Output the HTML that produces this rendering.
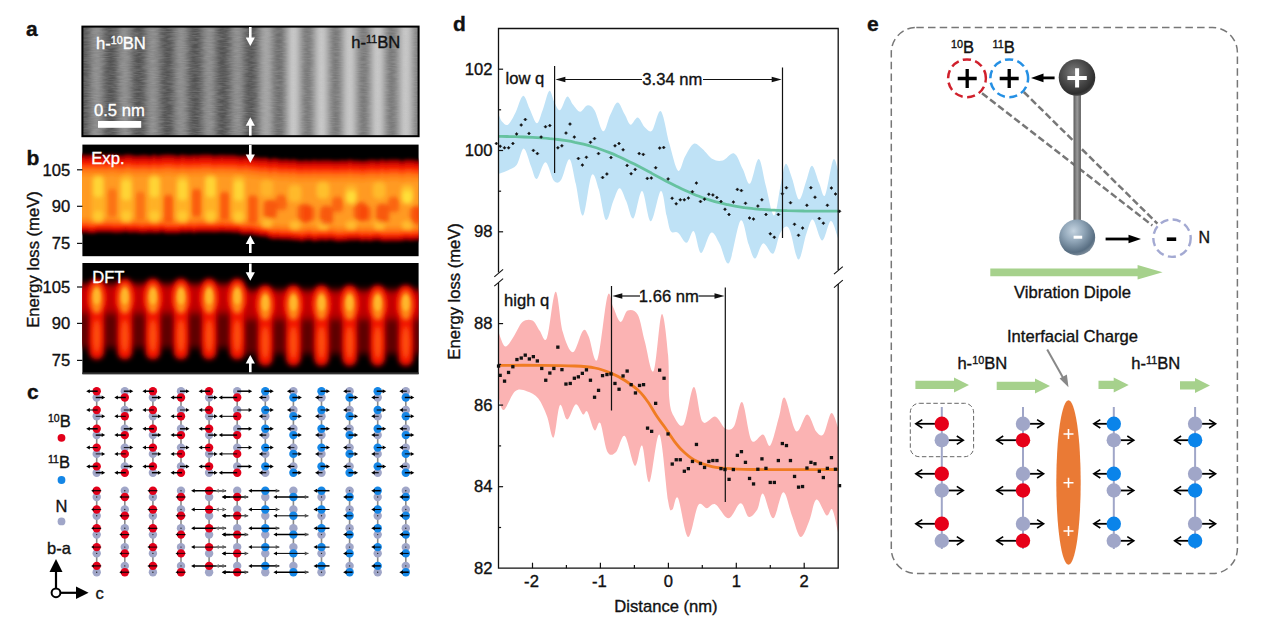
<!DOCTYPE html><html><head><meta charset="utf-8"><style>html,body{margin:0;padding:0;background:#fff}svg{display:block}text{font-family:"Liberation Sans",sans-serif;fill:#111;stroke:#111;stroke-width:0.35px}</style></head><body>
<svg width="1264" height="624" viewBox="0 0 1264 624">
<rect width="1264" height="624" fill="#fff"/>
<defs>
<linearGradient id="stripeL" x1="82.65" x2="110.75" y1="0" y2="0" gradientUnits="userSpaceOnUse" spreadMethod="repeat">
<stop offset="0.0000" stop-color="#525252"/><stop offset="0.0833" stop-color="#565656"/><stop offset="0.1667" stop-color="#606060"/><stop offset="0.2500" stop-color="#6f6f6f"/><stop offset="0.3333" stop-color="#7e7e7e"/><stop offset="0.4167" stop-color="#888888"/><stop offset="0.5000" stop-color="#8c8c8c"/><stop offset="0.5833" stop-color="#888888"/><stop offset="0.6667" stop-color="#7e7e7e"/><stop offset="0.7500" stop-color="#6f6f6f"/><stop offset="0.8333" stop-color="#606060"/><stop offset="0.9167" stop-color="#565656"/><stop offset="1.0000" stop-color="#525252"/></linearGradient>
<linearGradient id="stripeR" x1="82.65" x2="110.75" y1="0" y2="0" gradientUnits="userSpaceOnUse" spreadMethod="repeat">
<stop offset="0.0000" stop-color="#787878"/><stop offset="0.0833" stop-color="#7d7d7d"/><stop offset="0.1667" stop-color="#8c8c8c"/><stop offset="0.2500" stop-color="#a0a0a0"/><stop offset="0.3333" stop-color="#b4b4b4"/><stop offset="0.4167" stop-color="#c3c3c3"/><stop offset="0.5000" stop-color="#c8c8c8"/><stop offset="0.5833" stop-color="#c3c3c3"/><stop offset="0.6667" stop-color="#b4b4b4"/><stop offset="0.7500" stop-color="#a0a0a0"/><stop offset="0.8333" stop-color="#8c8c8c"/><stop offset="0.9167" stop-color="#7d7d7d"/><stop offset="1.0000" stop-color="#787878"/></linearGradient>
<linearGradient id="fadeLR" x1="248" x2="292" y1="0" y2="0" gradientUnits="userSpaceOnUse">
<stop offset="0" stop-color="#fff" stop-opacity="0"/><stop offset="1" stop-color="#fff" stop-opacity="1"/></linearGradient>
<mask id="mR"><rect x="82" y="26" width="337" height="111" fill="url(#fadeLR)"/></mask>
<filter id="noise" x="0" y="0" width="100%" height="100%"><feTurbulence type="fractalNoise" baseFrequency="0.12 0.8" numOctaves="2" seed="3"/><feColorMatrix type="matrix" values="0 0 0 0 0.5  0 0 0 0 0.5  0 0 0 0 0.5  0.9 0 0 0 -0.28"/></filter>
<linearGradient id="expL" x1="0" x2="0" y1="145" y2="256" gradientUnits="userSpaceOnUse">
<stop offset="0" stop-color="#000"/><stop offset="0.07" stop-color="#120000"/><stop offset="0.13" stop-color="#7a0000"/><stop offset="0.19" stop-color="#e01000"/><stop offset="0.26" stop-color="#ff4a08"/><stop offset="0.33" stop-color="#ff8a14"/><stop offset="0.42" stop-color="#ffa820"/><stop offset="0.52" stop-color="#ff8416"/><stop offset="0.60" stop-color="#ff8a18"/><stop offset="0.68" stop-color="#ff9a1c"/><stop offset="0.74" stop-color="#ff5a0c"/><stop offset="0.79" stop-color="#e81400"/><stop offset="0.84" stop-color="#6a0000"/><stop offset="0.89" stop-color="#0a0000"/><stop offset="1" stop-color="#000"/></linearGradient>
<linearGradient id="expR" x1="0" x2="0" y1="150" y2="261" gradientUnits="userSpaceOnUse">
<stop offset="0" stop-color="#000"/><stop offset="0.07" stop-color="#120000"/><stop offset="0.13" stop-color="#7a0000"/><stop offset="0.19" stop-color="#e01000"/><stop offset="0.26" stop-color="#ff4a08"/><stop offset="0.33" stop-color="#ff8a14"/><stop offset="0.42" stop-color="#ffa820"/><stop offset="0.52" stop-color="#ff6a10"/><stop offset="0.60" stop-color="#ff5a0c"/><stop offset="0.68" stop-color="#ff9018"/><stop offset="0.74" stop-color="#ff5a0c"/><stop offset="0.79" stop-color="#e81400"/><stop offset="0.84" stop-color="#6a0000"/><stop offset="0.89" stop-color="#0a0000"/><stop offset="1" stop-color="#000"/></linearGradient>
<filter id="b1" x="-20%" y="-20%" width="140%" height="140%"><feGaussianBlur stdDeviation="1.6"/></filter>
<filter id="b15" x="-20%" y="-20%" width="140%" height="140%"><feGaussianBlur stdDeviation="2.1"/></filter>
<filter id="b2" x="-30%" y="-30%" width="160%" height="160%"><feGaussianBlur stdDeviation="2.6"/></filter>
<filter id="b3" x="-30%" y="-30%" width="160%" height="160%"><feGaussianBlur stdDeviation="3.6"/></filter>
<filter id="b5" x="-30%" y="-30%" width="160%" height="160%"><feGaussianBlur stdDeviation="5"/></filter>
<clipPath id="cExp"><rect x="82" y="144.6" width="336.6" height="111.6"/></clipPath>
<clipPath id="cDft"><rect x="82" y="263" width="336.6" height="111"/></clipPath>
<clipPath id="cA"><rect x="82.4" y="26.4" width="336.2" height="110"/></clipPath>
<radialGradient id="sphD" cx="0.42" cy="0.36" r="0.68"><stop offset="0" stop-color="#7c7c7c"/><stop offset="0.5" stop-color="#4c4c4c"/><stop offset="0.85" stop-color="#2e2e2e"/><stop offset="1" stop-color="#505050"/></radialGradient>
<radialGradient id="sphN" cx="0.40" cy="0.32" r="0.7"><stop offset="0" stop-color="#c4d3e0"/><stop offset="0.4" stop-color="#93a8ba"/><stop offset="0.85" stop-color="#586e82"/><stop offset="1" stop-color="#7d8d9b"/></radialGradient>
<linearGradient id="rod" x1="0" x2="1" y1="0" y2="0"><stop offset="0" stop-color="#5a5a5a"/><stop offset="0.5" stop-color="#9a9a9a"/><stop offset="1" stop-color="#5a5a5a"/></linearGradient>
</defs>
<g clip-path="url(#cA)">
<rect x="82" y="26" width="337" height="111" fill="url(#stripeL)"/>
<rect x="82" y="26" width="337" height="111" fill="url(#stripeR)" mask="url(#mR)"/>
<rect x="82" y="26" width="337" height="111" filter="url(#noise)" opacity="0.55"/>
</g>
<rect x="82.4" y="26.6" width="336.2" height="109.6" fill="none" stroke="#000" stroke-width="2"/>
<path d="M250.3,27.0 L250.3,40.0" stroke="#fff" stroke-width="2.6" fill="none"/>
<path d="M250.3,46.0 L245.7,37.5 L254.9,37.5 Z" fill="#fff"/>
<path d="M250.3,135.5 L250.3,123.2" stroke="#fff" stroke-width="2.6" fill="none"/>
<path d="M250.3,117.2 L245.7,125.7 L254.9,125.7 Z" fill="#fff"/>
<text x="96" y="48.6" font-size="16.6" style="fill:#fff;stroke:#fff">h-<tspan font-size="10.8" dy="-5">10</tspan><tspan dy="5">BN</tspan></text>
<text x="351.3" y="48" font-size="16.6" style="fill:#111">h-<tspan font-size="10.8" dy="-5">11</tspan><tspan dy="5">BN</tspan></text>
<text x="94" y="115.5" font-size="16.6" style="fill:#fff;stroke:#fff">0.5 nm</text>
<rect x="98" y="121" width="43.2" height="6.8" fill="#fff"/>
<rect x="82.4" y="144.6" width="336.2" height="111.6" fill="#000"/>
<g clip-path="url(#cExp)">
<g filter="url(#b1)">
<path d="M70.0,153.8 L74.0,153.5 L78.0,154.2 L82.0,153.4 L86.0,154.1 L90.0,153.8 L94.0,153.4 L98.0,154.0 L102.0,153.4 L106.0,153.9 L110.0,153.4 L114.0,153.4 L118.0,153.9 L122.0,154.5 L126.0,153.5 L130.0,153.6 L134.0,154.2 L138.0,154.6 L142.0,154.1 L146.0,153.9 L150.0,154.7 L154.0,153.4 L158.0,154.5 L162.0,153.7 L166.0,153.5 L170.0,153.5 L174.0,153.7 L178.0,154.4 L182.0,153.6 L186.0,154.1 L190.0,154.2 L194.0,153.8 L198.0,154.1 L202.0,153.4 L206.0,153.4 L210.0,153.6 L214.0,154.3 L218.0,153.9 L222.0,153.7 L226.0,154.1 L230.0,154.0 L234.0,153.9 L238.0,154.8 L242.0,154.9 L246.0,154.6 L250.0,155.4 L254.0,155.7 L258.0,156.6 L262.0,156.8 L266.0,156.6 L270.0,157.9 L274.0,157.1 L278.0,157.8 L282.0,158.6 L286.0,158.1 L290.0,158.7 L294.0,158.3 L298.0,159.2 L302.0,159.4 L306.0,159.1 L310.0,159.5 L314.0,158.7 L318.0,159.3 L322.0,159.1 L326.0,159.1 L330.0,158.9 L334.0,159.5 L338.0,159.6 L342.0,159.0 L346.0,159.2 L350.0,158.4 L354.0,159.3 L358.0,159.2 L362.0,159.7 L366.0,159.5 L370.0,158.7 L374.0,158.8 L378.0,159.2 L382.0,158.3 L386.0,158.9 L390.0,158.5 L394.0,158.5 L398.0,158.4 L402.0,159.4 L406.0,158.5 L410.0,158.6 L414.0,158.8 L418.0,159.5 L422.0,158.4 L426.0,158.9 L430.0,159.1 L434.0,159.5 L434.0,242.3 L430.0,241.7 L426.0,241.7 L422.0,241.3 L418.0,241.3 L414.0,241.8 L410.0,242.0 L406.0,241.6 L402.0,242.3 L398.0,242.4 L394.0,242.4 L390.0,242.5 L386.0,242.7 L382.0,242.4 L378.0,241.6 L374.0,241.8 L370.0,242.4 L366.0,242.0 L362.0,242.4 L358.0,241.5 L354.0,241.8 L350.0,241.7 L346.0,242.3 L342.0,242.5 L338.0,242.7 L334.0,242.0 L330.0,241.3 L326.0,242.1 L322.0,241.5 L318.0,242.0 L314.0,242.6 L310.0,241.3 L306.0,241.5 L302.0,242.5 L298.0,241.7 L294.0,241.6 L290.0,241.1 L286.0,240.7 L282.0,240.8 L278.0,240.3 L274.0,240.5 L270.0,239.7 L266.0,238.0 L262.0,237.7 L258.0,237.1 L254.0,236.3 L250.0,235.6 L246.0,235.7 L242.0,235.6 L238.0,234.0 L234.0,234.1 L230.0,233.5 L226.0,233.5 L222.0,233.3 L218.0,233.4 L214.0,233.8 L210.0,233.5 L206.0,233.6 L202.0,233.4 L198.0,233.4 L194.0,234.2 L190.0,233.4 L186.0,233.9 L182.0,233.8 L178.0,234.4 L174.0,234.5 L170.0,234.4 L166.0,234.6 L162.0,233.4 L158.0,234.2 L154.0,234.2 L150.0,234.0 L146.0,234.3 L142.0,234.6 L138.0,234.1 L134.0,233.8 L130.0,233.9 L126.0,233.3 L122.0,233.7 L118.0,234.1 L114.0,234.0 L110.0,233.6 L106.0,233.6 L102.0,233.5 L98.0,233.5 L94.0,234.6 L90.0,234.5 L86.0,233.8 L82.0,233.9 L78.0,233.7 L74.0,234.5 L70.0,234.4 Z" fill="#4a0000" opacity="1"/>
<path d="M70.0,156.3 L74.0,156.0 L78.0,156.7 L82.0,155.9 L86.0,156.6 L90.0,156.3 L94.0,155.9 L98.0,156.5 L102.0,155.9 L106.0,156.4 L110.0,155.9 L114.0,155.9 L118.0,156.4 L122.0,157.0 L126.0,156.0 L130.0,156.1 L134.0,156.7 L138.0,157.1 L142.0,156.6 L146.0,156.4 L150.0,157.2 L154.0,155.9 L158.0,157.0 L162.0,156.2 L166.0,156.0 L170.0,156.0 L174.0,156.2 L178.0,156.9 L182.0,156.1 L186.0,156.6 L190.0,156.7 L194.0,156.3 L198.0,156.6 L202.0,155.9 L206.0,155.9 L210.0,156.1 L214.0,156.8 L218.0,156.4 L222.0,156.2 L226.0,156.6 L230.0,156.5 L234.0,156.4 L238.0,157.3 L242.0,157.4 L246.0,157.1 L250.0,157.9 L254.0,158.2 L258.0,159.1 L262.0,159.3 L266.0,159.1 L270.0,160.4 L274.0,159.6 L278.0,160.3 L282.0,161.1 L286.0,160.6 L290.0,161.2 L294.0,160.8 L298.0,161.7 L302.0,161.9 L306.0,161.6 L310.0,162.0 L314.0,161.2 L318.0,161.8 L322.0,161.6 L326.0,161.6 L330.0,161.4 L334.0,162.0 L338.0,162.1 L342.0,161.5 L346.0,161.7 L350.0,160.9 L354.0,161.8 L358.0,161.7 L362.0,162.2 L366.0,162.0 L370.0,161.2 L374.0,161.3 L378.0,161.7 L382.0,160.8 L386.0,161.4 L390.0,161.0 L394.0,161.0 L398.0,160.9 L402.0,161.9 L406.0,161.0 L410.0,161.1 L414.0,161.3 L418.0,162.0 L422.0,160.9 L426.0,161.4 L430.0,161.6 L434.0,162.0 L434.0,239.8 L430.0,239.2 L426.0,239.2 L422.0,238.8 L418.0,238.8 L414.0,239.3 L410.0,239.5 L406.0,239.1 L402.0,239.8 L398.0,239.9 L394.0,239.9 L390.0,240.0 L386.0,240.2 L382.0,239.9 L378.0,239.1 L374.0,239.3 L370.0,239.9 L366.0,239.5 L362.0,239.9 L358.0,239.0 L354.0,239.3 L350.0,239.2 L346.0,239.8 L342.0,240.0 L338.0,240.2 L334.0,239.5 L330.0,238.8 L326.0,239.6 L322.0,239.0 L318.0,239.5 L314.0,240.1 L310.0,238.8 L306.0,239.0 L302.0,240.0 L298.0,239.2 L294.0,239.1 L290.0,238.6 L286.0,238.2 L282.0,238.3 L278.0,237.8 L274.0,238.0 L270.0,237.2 L266.0,235.5 L262.0,235.2 L258.0,234.6 L254.0,233.8 L250.0,233.1 L246.0,233.2 L242.0,233.1 L238.0,231.5 L234.0,231.6 L230.0,231.0 L226.0,231.0 L222.0,230.8 L218.0,230.9 L214.0,231.3 L210.0,231.0 L206.0,231.1 L202.0,230.9 L198.0,230.9 L194.0,231.7 L190.0,230.9 L186.0,231.4 L182.0,231.3 L178.0,231.9 L174.0,232.0 L170.0,231.9 L166.0,232.1 L162.0,230.9 L158.0,231.7 L154.0,231.7 L150.0,231.5 L146.0,231.8 L142.0,232.1 L138.0,231.6 L134.0,231.3 L130.0,231.4 L126.0,230.8 L122.0,231.2 L118.0,231.6 L114.0,231.5 L110.0,231.1 L106.0,231.1 L102.0,231.0 L98.0,231.0 L94.0,232.1 L90.0,232.0 L86.0,231.3 L82.0,231.4 L78.0,231.2 L74.0,232.0 L70.0,231.9 Z" fill="#b80400" opacity="1"/>
<path d="M70.0,159.8 L74.0,159.5 L78.0,160.2 L82.0,159.4 L86.0,160.1 L90.0,159.8 L94.0,159.4 L98.0,160.0 L102.0,159.4 L106.0,159.9 L110.0,159.4 L114.0,159.4 L118.0,159.9 L122.0,160.5 L126.0,159.5 L130.0,159.6 L134.0,160.2 L138.0,160.6 L142.0,160.1 L146.0,159.9 L150.0,160.7 L154.0,159.4 L158.0,160.5 L162.0,159.7 L166.0,159.5 L170.0,159.5 L174.0,159.7 L178.0,160.4 L182.0,159.6 L186.0,160.1 L190.0,160.2 L194.0,159.8 L198.0,160.1 L202.0,159.4 L206.0,159.4 L210.0,159.6 L214.0,160.3 L218.0,159.9 L222.0,159.7 L226.0,160.1 L230.0,160.0 L234.0,159.9 L238.0,160.8 L242.0,160.9 L246.0,160.6 L250.0,161.4 L254.0,161.7 L258.0,162.6 L262.0,162.8 L266.0,162.6 L270.0,163.9 L274.0,163.1 L278.0,163.8 L282.0,164.6 L286.0,164.1 L290.0,164.7 L294.0,164.3 L298.0,165.2 L302.0,165.4 L306.0,165.1 L310.0,165.5 L314.0,164.7 L318.0,165.3 L322.0,165.1 L326.0,165.1 L330.0,164.9 L334.0,165.5 L338.0,165.6 L342.0,165.0 L346.0,165.2 L350.0,164.4 L354.0,165.3 L358.0,165.2 L362.0,165.7 L366.0,165.5 L370.0,164.7 L374.0,164.8 L378.0,165.2 L382.0,164.3 L386.0,164.9 L390.0,164.5 L394.0,164.5 L398.0,164.4 L402.0,165.4 L406.0,164.5 L410.0,164.6 L414.0,164.8 L418.0,165.5 L422.0,164.4 L426.0,164.9 L430.0,165.1 L434.0,165.5 L434.0,237.3 L430.0,236.7 L426.0,236.7 L422.0,236.3 L418.0,236.3 L414.0,236.8 L410.0,237.0 L406.0,236.6 L402.0,237.3 L398.0,237.4 L394.0,237.4 L390.0,237.5 L386.0,237.7 L382.0,237.4 L378.0,236.6 L374.0,236.8 L370.0,237.4 L366.0,237.0 L362.0,237.4 L358.0,236.5 L354.0,236.8 L350.0,236.7 L346.0,237.3 L342.0,237.5 L338.0,237.7 L334.0,237.0 L330.0,236.3 L326.0,237.1 L322.0,236.5 L318.0,237.0 L314.0,237.6 L310.0,236.3 L306.0,236.5 L302.0,237.5 L298.0,236.7 L294.0,236.6 L290.0,236.1 L286.0,235.7 L282.0,235.8 L278.0,235.3 L274.0,235.5 L270.0,234.7 L266.0,233.0 L262.0,232.7 L258.0,232.1 L254.0,231.3 L250.0,230.6 L246.0,230.7 L242.0,230.6 L238.0,229.0 L234.0,229.1 L230.0,228.5 L226.0,228.5 L222.0,228.3 L218.0,228.4 L214.0,228.8 L210.0,228.5 L206.0,228.6 L202.0,228.4 L198.0,228.4 L194.0,229.2 L190.0,228.4 L186.0,228.9 L182.0,228.8 L178.0,229.4 L174.0,229.5 L170.0,229.4 L166.0,229.6 L162.0,228.4 L158.0,229.2 L154.0,229.2 L150.0,229.0 L146.0,229.3 L142.0,229.6 L138.0,229.1 L134.0,228.8 L130.0,228.9 L126.0,228.3 L122.0,228.7 L118.0,229.1 L114.0,229.0 L110.0,228.6 L106.0,228.6 L102.0,228.5 L98.0,228.5 L94.0,229.6 L90.0,229.5 L86.0,228.8 L82.0,228.9 L78.0,228.7 L74.0,229.5 L70.0,229.4 Z" fill="#f01800" opacity="1"/>
<path d="M70.0,164.3 L74.0,164.0 L78.0,164.7 L82.0,163.9 L86.0,164.6 L90.0,164.3 L94.0,163.9 L98.0,164.5 L102.0,163.9 L106.0,164.4 L110.0,163.9 L114.0,163.9 L118.0,164.4 L122.0,165.0 L126.0,164.0 L130.0,164.1 L134.0,164.7 L138.0,165.1 L142.0,164.6 L146.0,164.4 L150.0,165.2 L154.0,163.9 L158.0,165.0 L162.0,164.2 L166.0,164.0 L170.0,164.0 L174.0,164.2 L178.0,164.9 L182.0,164.1 L186.0,164.6 L190.0,164.7 L194.0,164.3 L198.0,164.6 L202.0,163.9 L206.0,163.9 L210.0,164.1 L214.0,164.8 L218.0,164.4 L222.0,164.2 L226.0,164.6 L230.0,164.5 L234.0,164.4 L238.0,165.3 L242.0,165.4 L246.0,165.1 L250.0,165.9 L254.0,166.2 L258.0,167.1 L262.0,167.3 L266.0,167.1 L270.0,168.4 L274.0,167.6 L278.0,168.3 L282.0,169.1 L286.0,168.6 L290.0,169.2 L294.0,168.8 L298.0,169.7 L302.0,169.9 L306.0,169.6 L310.0,170.0 L314.0,169.2 L318.0,169.8 L322.0,169.6 L326.0,169.6 L330.0,169.4 L334.0,170.0 L338.0,170.1 L342.0,169.5 L346.0,169.7 L350.0,168.9 L354.0,169.8 L358.0,169.7 L362.0,170.2 L366.0,170.0 L370.0,169.2 L374.0,169.3 L378.0,169.7 L382.0,168.8 L386.0,169.4 L390.0,169.0 L394.0,169.0 L398.0,168.9 L402.0,169.9 L406.0,169.0 L410.0,169.1 L414.0,169.3 L418.0,170.0 L422.0,168.9 L426.0,169.4 L430.0,169.6 L434.0,170.0 L434.0,234.8 L430.0,234.2 L426.0,234.2 L422.0,233.8 L418.0,233.8 L414.0,234.3 L410.0,234.5 L406.0,234.1 L402.0,234.8 L398.0,234.9 L394.0,234.9 L390.0,235.0 L386.0,235.2 L382.0,234.9 L378.0,234.1 L374.0,234.3 L370.0,234.9 L366.0,234.5 L362.0,234.9 L358.0,234.0 L354.0,234.3 L350.0,234.2 L346.0,234.8 L342.0,235.0 L338.0,235.2 L334.0,234.5 L330.0,233.8 L326.0,234.6 L322.0,234.0 L318.0,234.5 L314.0,235.1 L310.0,233.8 L306.0,234.0 L302.0,235.0 L298.0,234.2 L294.0,234.1 L290.0,233.6 L286.0,233.2 L282.0,233.3 L278.0,232.8 L274.0,233.0 L270.0,232.2 L266.0,230.5 L262.0,230.2 L258.0,229.6 L254.0,228.8 L250.0,228.1 L246.0,228.2 L242.0,228.1 L238.0,226.5 L234.0,226.6 L230.0,226.0 L226.0,226.0 L222.0,225.8 L218.0,225.9 L214.0,226.3 L210.0,226.0 L206.0,226.1 L202.0,225.9 L198.0,225.9 L194.0,226.7 L190.0,225.9 L186.0,226.4 L182.0,226.3 L178.0,226.9 L174.0,227.0 L170.0,226.9 L166.0,227.1 L162.0,225.9 L158.0,226.7 L154.0,226.7 L150.0,226.5 L146.0,226.8 L142.0,227.1 L138.0,226.6 L134.0,226.3 L130.0,226.4 L126.0,225.8 L122.0,226.2 L118.0,226.6 L114.0,226.5 L110.0,226.1 L106.0,226.1 L102.0,226.0 L98.0,226.0 L94.0,227.1 L90.0,227.0 L86.0,226.3 L82.0,226.4 L78.0,226.2 L74.0,227.0 L70.0,226.9 Z" fill="#ff4608" opacity="1"/>
<path d="M70.0,168.3 L74.0,168.0 L78.0,168.7 L82.0,167.9 L86.0,168.6 L90.0,168.3 L94.0,167.9 L98.0,168.5 L102.0,167.9 L106.0,168.4 L110.0,167.9 L114.0,167.9 L118.0,168.4 L122.0,169.0 L126.0,168.0 L130.0,168.1 L134.0,168.7 L138.0,169.1 L142.0,168.6 L146.0,168.4 L150.0,169.2 L154.0,167.9 L158.0,169.0 L162.0,168.2 L166.0,168.0 L170.0,168.0 L174.0,168.2 L178.0,168.9 L182.0,168.1 L186.0,168.6 L190.0,168.7 L194.0,168.3 L198.0,168.6 L202.0,167.9 L206.0,167.9 L210.0,168.1 L214.0,168.8 L218.0,168.4 L222.0,168.2 L226.0,168.6 L230.0,168.5 L234.0,168.4 L238.0,169.3 L242.0,169.4 L246.0,169.1 L250.0,169.9 L254.0,170.2 L258.0,171.1 L262.0,171.3 L266.0,171.1 L270.0,172.4 L274.0,171.6 L278.0,172.3 L282.0,173.1 L286.0,172.6 L290.0,173.2 L294.0,172.8 L298.0,173.7 L302.0,173.9 L306.0,173.6 L310.0,174.0 L314.0,173.2 L318.0,173.8 L322.0,173.6 L326.0,173.6 L330.0,173.4 L334.0,174.0 L338.0,174.1 L342.0,173.5 L346.0,173.7 L350.0,172.9 L354.0,173.8 L358.0,173.7 L362.0,174.2 L366.0,174.0 L370.0,173.2 L374.0,173.3 L378.0,173.7 L382.0,172.8 L386.0,173.4 L390.0,173.0 L394.0,173.0 L398.0,172.9 L402.0,173.9 L406.0,173.0 L410.0,173.1 L414.0,173.3 L418.0,174.0 L422.0,172.9 L426.0,173.4 L430.0,173.6 L434.0,174.0 L434.0,231.8 L430.0,231.2 L426.0,231.2 L422.0,230.8 L418.0,230.8 L414.0,231.3 L410.0,231.5 L406.0,231.1 L402.0,231.8 L398.0,231.9 L394.0,231.9 L390.0,232.0 L386.0,232.2 L382.0,231.9 L378.0,231.1 L374.0,231.3 L370.0,231.9 L366.0,231.5 L362.0,231.9 L358.0,231.0 L354.0,231.3 L350.0,231.2 L346.0,231.8 L342.0,232.0 L338.0,232.2 L334.0,231.5 L330.0,230.8 L326.0,231.6 L322.0,231.0 L318.0,231.5 L314.0,232.1 L310.0,230.8 L306.0,231.0 L302.0,232.0 L298.0,231.2 L294.0,231.1 L290.0,230.6 L286.0,230.2 L282.0,230.3 L278.0,229.8 L274.0,230.0 L270.0,229.2 L266.0,227.5 L262.0,227.2 L258.0,226.6 L254.0,225.8 L250.0,225.1 L246.0,225.2 L242.0,225.1 L238.0,223.5 L234.0,223.6 L230.0,223.0 L226.0,223.0 L222.0,222.8 L218.0,222.9 L214.0,223.3 L210.0,223.0 L206.0,223.1 L202.0,222.9 L198.0,222.9 L194.0,223.7 L190.0,222.9 L186.0,223.4 L182.0,223.3 L178.0,223.9 L174.0,224.0 L170.0,223.9 L166.0,224.1 L162.0,222.9 L158.0,223.7 L154.0,223.7 L150.0,223.5 L146.0,223.8 L142.0,224.1 L138.0,223.6 L134.0,223.3 L130.0,223.4 L126.0,222.8 L122.0,223.2 L118.0,223.6 L114.0,223.5 L110.0,223.1 L106.0,223.1 L102.0,223.0 L98.0,223.0 L94.0,224.1 L90.0,224.0 L86.0,223.3 L82.0,223.4 L78.0,223.2 L74.0,224.0 L70.0,223.9 Z" fill="#ff7412" opacity="1"/>
<path d="M70.0,172.3 L74.0,172.0 L78.0,172.7 L82.0,171.9 L86.0,172.6 L90.0,172.3 L94.0,171.9 L98.0,172.5 L102.0,171.9 L106.0,172.4 L110.0,171.9 L114.0,171.9 L118.0,172.4 L122.0,173.0 L126.0,172.0 L130.0,172.1 L134.0,172.7 L138.0,173.1 L142.0,172.6 L146.0,172.4 L150.0,173.2 L154.0,171.9 L158.0,173.0 L162.0,172.2 L166.0,172.0 L170.0,172.0 L174.0,172.2 L178.0,172.9 L182.0,172.1 L186.0,172.6 L190.0,172.7 L194.0,172.3 L198.0,172.6 L202.0,171.9 L206.0,171.9 L210.0,172.1 L214.0,172.8 L218.0,172.4 L222.0,172.2 L226.0,172.6 L230.0,172.5 L234.0,172.4 L238.0,173.3 L242.0,173.4 L246.0,173.1 L250.0,173.9 L254.0,174.2 L258.0,175.1 L262.0,175.3 L266.0,175.1 L270.0,176.4 L274.0,175.6 L278.0,176.3 L282.0,177.1 L286.0,176.6 L290.0,177.2 L294.0,176.8 L298.0,177.7 L302.0,177.9 L306.0,177.6 L310.0,178.0 L314.0,177.2 L318.0,177.8 L322.0,177.6 L326.0,177.6 L330.0,177.4 L334.0,178.0 L338.0,178.1 L342.0,177.5 L346.0,177.7 L350.0,176.9 L354.0,177.8 L358.0,177.7 L362.0,178.2 L366.0,178.0 L370.0,177.2 L374.0,177.3 L378.0,177.7 L382.0,176.8 L386.0,177.4 L390.0,177.0 L394.0,177.0 L398.0,176.9 L402.0,177.9 L406.0,177.0 L410.0,177.1 L414.0,177.3 L418.0,178.0 L422.0,176.9 L426.0,177.4 L430.0,177.6 L434.0,178.0 L434.0,228.8 L430.0,228.2 L426.0,228.2 L422.0,227.8 L418.0,227.8 L414.0,228.3 L410.0,228.5 L406.0,228.1 L402.0,228.8 L398.0,228.9 L394.0,228.9 L390.0,229.0 L386.0,229.2 L382.0,228.9 L378.0,228.1 L374.0,228.3 L370.0,228.9 L366.0,228.5 L362.0,228.9 L358.0,228.0 L354.0,228.3 L350.0,228.2 L346.0,228.8 L342.0,229.0 L338.0,229.2 L334.0,228.5 L330.0,227.8 L326.0,228.6 L322.0,228.0 L318.0,228.5 L314.0,229.1 L310.0,227.8 L306.0,228.0 L302.0,229.0 L298.0,228.2 L294.0,228.1 L290.0,227.6 L286.0,227.2 L282.0,227.3 L278.0,226.8 L274.0,227.0 L270.0,226.2 L266.0,224.5 L262.0,224.2 L258.0,223.6 L254.0,222.8 L250.0,222.1 L246.0,222.2 L242.0,222.1 L238.0,220.5 L234.0,220.6 L230.0,220.0 L226.0,220.0 L222.0,219.8 L218.0,219.9 L214.0,220.3 L210.0,220.0 L206.0,220.1 L202.0,219.9 L198.0,219.9 L194.0,220.7 L190.0,219.9 L186.0,220.4 L182.0,220.3 L178.0,220.9 L174.0,221.0 L170.0,220.9 L166.0,221.1 L162.0,219.9 L158.0,220.7 L154.0,220.7 L150.0,220.5 L146.0,220.8 L142.0,221.1 L138.0,220.6 L134.0,220.3 L130.0,220.4 L126.0,219.8 L122.0,220.2 L118.0,220.6 L114.0,220.5 L110.0,220.1 L106.0,220.1 L102.0,220.0 L98.0,220.0 L94.0,221.1 L90.0,221.0 L86.0,220.3 L82.0,220.4 L78.0,220.2 L74.0,221.0 L70.0,220.9 Z" fill="#ff8c1a" opacity="1"/>
<path d="M70.0,176.3 L74.0,176.0 L78.0,176.7 L82.0,175.9 L86.0,176.6 L90.0,176.3 L94.0,175.9 L98.0,176.5 L102.0,175.9 L106.0,176.4 L110.0,175.9 L114.0,175.9 L118.0,176.4 L122.0,177.0 L126.0,176.0 L130.0,176.1 L134.0,176.7 L138.0,177.1 L142.0,176.6 L146.0,176.4 L150.0,177.2 L154.0,175.9 L158.0,177.0 L162.0,176.2 L166.0,176.0 L170.0,176.0 L174.0,176.2 L178.0,176.9 L182.0,176.1 L186.0,176.6 L190.0,176.7 L194.0,176.3 L198.0,176.6 L202.0,175.9 L206.0,175.9 L210.0,176.1 L214.0,176.8 L218.0,176.4 L222.0,176.2 L226.0,176.6 L230.0,176.5 L234.0,176.4 L238.0,177.3 L242.0,177.4 L246.0,177.1 L250.0,177.9 L254.0,178.2 L258.0,179.1 L262.0,179.3 L266.0,179.1 L270.0,180.4 L274.0,179.6 L278.0,180.3 L282.0,181.1 L286.0,180.6 L290.0,181.2 L294.0,180.8 L298.0,181.7 L302.0,181.9 L306.0,181.6 L310.0,182.0 L314.0,181.2 L318.0,181.8 L322.0,181.6 L326.0,181.6 L330.0,181.4 L334.0,182.0 L338.0,182.1 L342.0,181.5 L346.0,181.7 L350.0,180.9 L354.0,181.8 L358.0,181.7 L362.0,182.2 L366.0,182.0 L370.0,181.2 L374.0,181.3 L378.0,181.7 L382.0,180.8 L386.0,181.4 L390.0,181.0 L394.0,181.0 L398.0,180.9 L402.0,181.9 L406.0,181.0 L410.0,181.1 L414.0,181.3 L418.0,182.0 L422.0,180.9 L426.0,181.4 L430.0,181.6 L434.0,182.0 L434.0,225.8 L430.0,225.2 L426.0,225.2 L422.0,224.8 L418.0,224.8 L414.0,225.3 L410.0,225.5 L406.0,225.1 L402.0,225.8 L398.0,225.9 L394.0,225.9 L390.0,226.0 L386.0,226.2 L382.0,225.9 L378.0,225.1 L374.0,225.3 L370.0,225.9 L366.0,225.5 L362.0,225.9 L358.0,225.0 L354.0,225.3 L350.0,225.2 L346.0,225.8 L342.0,226.0 L338.0,226.2 L334.0,225.5 L330.0,224.8 L326.0,225.6 L322.0,225.0 L318.0,225.5 L314.0,226.1 L310.0,224.8 L306.0,225.0 L302.0,226.0 L298.0,225.2 L294.0,225.1 L290.0,224.6 L286.0,224.2 L282.0,224.3 L278.0,223.8 L274.0,224.0 L270.0,223.2 L266.0,221.5 L262.0,221.2 L258.0,220.6 L254.0,219.8 L250.0,219.1 L246.0,219.2 L242.0,219.1 L238.0,217.5 L234.0,217.6 L230.0,217.0 L226.0,217.0 L222.0,216.8 L218.0,216.9 L214.0,217.3 L210.0,217.0 L206.0,217.1 L202.0,216.9 L198.0,216.9 L194.0,217.7 L190.0,216.9 L186.0,217.4 L182.0,217.3 L178.0,217.9 L174.0,218.0 L170.0,217.9 L166.0,218.1 L162.0,216.9 L158.0,217.7 L154.0,217.7 L150.0,217.5 L146.0,217.8 L142.0,218.1 L138.0,217.6 L134.0,217.3 L130.0,217.4 L126.0,216.8 L122.0,217.2 L118.0,217.6 L114.0,217.5 L110.0,217.1 L106.0,217.1 L102.0,217.0 L98.0,217.0 L94.0,218.1 L90.0,218.0 L86.0,217.3 L82.0,217.4 L78.0,217.2 L74.0,218.0 L70.0,217.9 Z" fill="#ff9a20" opacity="1"/>
</g>
<g filter="url(#b15)">
<rect x="91.7" y="175.0" width="13" height="48" rx="5" fill="#ffb828" opacity="0.8"/>
<rect x="93.2" y="177.0" width="10" height="20" rx="4" fill="#ffe03a" opacity="0.75"/>
<rect x="93.2" y="211.0" width="10" height="10" rx="4" fill="#ffd834" opacity="0.6"/>
<rect x="107.2" y="189.0" width="10" height="28" rx="4" fill="#f83408" opacity="0.40"/>
<rect x="119.8" y="175.0" width="13" height="48" rx="5" fill="#ffb828" opacity="0.8"/>
<rect x="121.3" y="180.0" width="10" height="20" rx="4" fill="#ffe03a" opacity="0.75"/>
<rect x="121.3" y="211.0" width="10" height="10" rx="4" fill="#ffd834" opacity="0.6"/>
<rect x="135.3" y="192.0" width="10" height="28" rx="4" fill="#f83408" opacity="0.40"/>
<rect x="147.9" y="175.0" width="13" height="48" rx="5" fill="#ffb828" opacity="0.8"/>
<rect x="149.4" y="177.0" width="10" height="20" rx="4" fill="#ffe03a" opacity="0.75"/>
<rect x="149.4" y="211.0" width="10" height="10" rx="4" fill="#ffd834" opacity="0.6"/>
<rect x="163.4" y="195.0" width="10" height="28" rx="4" fill="#f83408" opacity="0.60"/>
<rect x="176.0" y="175.0" width="13" height="48" rx="5" fill="#ffb828" opacity="0.8"/>
<rect x="177.5" y="180.0" width="10" height="20" rx="4" fill="#ffe03a" opacity="0.75"/>
<rect x="177.5" y="211.0" width="10" height="10" rx="4" fill="#ffd834" opacity="0.6"/>
<rect x="191.5" y="189.0" width="10" height="28" rx="4" fill="#f83408" opacity="0.60"/>
<rect x="204.1" y="175.0" width="13" height="48" rx="5" fill="#ffb828" opacity="0.8"/>
<rect x="205.6" y="177.0" width="10" height="20" rx="4" fill="#ffe03a" opacity="0.75"/>
<rect x="205.6" y="211.0" width="10" height="10" rx="4" fill="#ffd834" opacity="0.6"/>
<rect x="219.6" y="192.0" width="10" height="28" rx="4" fill="#f83408" opacity="0.60"/>
<rect x="232.2" y="175.4" width="13" height="48" rx="5" fill="#ffb828" opacity="0.8"/>
<rect x="233.7" y="180.4" width="10" height="20" rx="4" fill="#ffe03a" opacity="0.75"/>
<rect x="233.7" y="211.4" width="10" height="10" rx="4" fill="#ffd834" opacity="0.6"/>
<rect x="247.7" y="195.4" width="10" height="28" rx="4" fill="#f83408" opacity="0.60"/>
<rect x="260.3" y="179.9" width="13" height="17" rx="5" fill="#ffc42c" opacity="0.60"/>
<rect x="261.3" y="218.9" width="11" height="9" rx="4" fill="#ffc830" opacity="0.75"/>
<rect x="263.8" y="199.9" width="13" height="19" rx="5" fill="#f42c06" opacity="0.6"/>
<rect x="275.8" y="194.9" width="11" height="15" rx="4" fill="#f83408" opacity="0.5"/>
<rect x="288.4" y="184.9" width="13" height="17" rx="5" fill="#ffc42c" opacity="0.75"/>
<rect x="289.4" y="220.9" width="11" height="9" rx="4" fill="#ffc830" opacity="0.75"/>
<rect x="297.9" y="203.9" width="13" height="19" rx="5" fill="#f42c06" opacity="0.6"/>
<rect x="303.9" y="205.9" width="11" height="15" rx="4" fill="#f83408" opacity="0.5"/>
<rect x="316.5" y="182.0" width="13" height="17" rx="5" fill="#ffc42c" opacity="0.90"/>
<rect x="317.5" y="221.0" width="11" height="9" rx="4" fill="#ffc830" opacity="0.75"/>
<rect x="320.0" y="206.0" width="13" height="19" rx="5" fill="#f42c06" opacity="0.6"/>
<rect x="332.0" y="197.0" width="11" height="15" rx="4" fill="#f83408" opacity="0.5"/>
<rect x="344.6" y="185.0" width="13" height="17" rx="5" fill="#ffc42c" opacity="0.60"/>
<rect x="345.6" y="221.0" width="11" height="9" rx="4" fill="#ffc830" opacity="0.75"/>
<rect x="354.1" y="202.0" width="13" height="19" rx="5" fill="#f42c06" opacity="0.6"/>
<rect x="360.1" y="206.0" width="11" height="15" rx="4" fill="#f83408" opacity="0.5"/>
<rect x="346.1" y="191.0" width="10" height="13" rx="4" fill="#ffe83c" opacity="0.8"/>
<rect x="372.7" y="182.0" width="13" height="17" rx="5" fill="#ffc42c" opacity="0.75"/>
<rect x="373.7" y="221.0" width="11" height="9" rx="4" fill="#ffc830" opacity="0.75"/>
<rect x="376.2" y="204.0" width="13" height="19" rx="5" fill="#f42c06" opacity="0.6"/>
<rect x="388.2" y="197.0" width="11" height="15" rx="4" fill="#f83408" opacity="0.5"/>
<rect x="400.8" y="185.0" width="13" height="17" rx="5" fill="#ffc42c" opacity="0.90"/>
<rect x="401.8" y="221.0" width="11" height="9" rx="4" fill="#ffc830" opacity="0.75"/>
<rect x="410.3" y="206.0" width="13" height="19" rx="5" fill="#f42c06" opacity="0.6"/>
<rect x="416.3" y="206.0" width="11" height="15" rx="4" fill="#f83408" opacity="0.5"/>
<rect x="402.3" y="191.0" width="10" height="13" rx="4" fill="#ffe83c" opacity="0.8"/>
</g>
</g>
<path d="M250.3,145.0 L250.3,157.1" stroke="#fff" stroke-width="2.6" fill="none"/>
<path d="M250.3,163.0 L245.7,154.5 L254.9,154.5 Z" fill="#fff"/>
<path d="M250.3,253.0 L250.3,241.4" stroke="#fff" stroke-width="2.6" fill="none"/>
<path d="M250.3,235.5 L245.7,244.0 L254.9,244.0 Z" fill="#fff"/>
<text x="91.3" y="163.7" font-size="16.6" style="fill:#fff;stroke:#fff">Exp.</text>
<rect x="82.4" y="263" width="336.2" height="111" fill="#000"/>
<g clip-path="url(#cDft)">
<g filter="url(#b3)">
<rect x="70" y="284" width="172" height="30" fill="#d00000" opacity="0.9"/>
<rect x="242" y="290" width="190" height="30" fill="#d00000" opacity="0.9"/>
<rect x="70" y="312" width="172" height="36" fill="#6a0000" opacity="0.9"/>
<rect x="242" y="318" width="190" height="36" fill="#6a0000" opacity="0.9"/>
</g>
<g filter="url(#b2)">
<rect x="61.1" y="278.5" width="15" height="81" rx="7.5" fill="#f00800"/>
<ellipse cx="68.6" cy="297.0" rx="10.5" ry="17" fill="#f00800"/>
<rect x="89.2" y="278.5" width="15" height="81" rx="7.5" fill="#f00800"/>
<ellipse cx="96.7" cy="297.0" rx="10.5" ry="17" fill="#f00800"/>
<rect x="117.3" y="278.5" width="15" height="81" rx="7.5" fill="#f00800"/>
<ellipse cx="124.8" cy="297.0" rx="10.5" ry="17" fill="#f00800"/>
<rect x="145.4" y="278.5" width="15" height="81" rx="7.5" fill="#f00800"/>
<ellipse cx="152.9" cy="297.0" rx="10.5" ry="17" fill="#f00800"/>
<rect x="173.5" y="278.5" width="15" height="81" rx="7.5" fill="#f00800"/>
<ellipse cx="181.0" cy="297.0" rx="10.5" ry="17" fill="#f00800"/>
<rect x="201.6" y="278.5" width="15" height="81" rx="7.5" fill="#f00800"/>
<ellipse cx="209.1" cy="297.0" rx="10.5" ry="17" fill="#f00800"/>
<rect x="229.7" y="278.5" width="15" height="81" rx="7.5" fill="#f00800"/>
<ellipse cx="237.2" cy="297.0" rx="10.5" ry="17" fill="#f00800"/>
<rect x="257.8" y="285.0" width="15" height="81" rx="7.5" fill="#f00800"/>
<ellipse cx="265.3" cy="303.5" rx="10.5" ry="17" fill="#f00800"/>
<rect x="285.9" y="285.0" width="15" height="81" rx="7.5" fill="#f00800"/>
<ellipse cx="293.4" cy="303.5" rx="10.5" ry="17" fill="#f00800"/>
<rect x="314.0" y="285.0" width="15" height="81" rx="7.5" fill="#f00800"/>
<ellipse cx="321.5" cy="303.5" rx="10.5" ry="17" fill="#f00800"/>
<rect x="342.1" y="285.0" width="15" height="81" rx="7.5" fill="#f00800"/>
<ellipse cx="349.6" cy="303.5" rx="10.5" ry="17" fill="#f00800"/>
<rect x="370.2" y="285.0" width="15" height="81" rx="7.5" fill="#f00800"/>
<ellipse cx="377.7" cy="303.5" rx="10.5" ry="17" fill="#f00800"/>
<rect x="398.3" y="285.0" width="15" height="81" rx="7.5" fill="#f00800"/>
<ellipse cx="405.8" cy="303.5" rx="10.5" ry="17" fill="#f00800"/>
<rect x="426.4" y="285.0" width="15" height="81" rx="7.5" fill="#f00800"/>
<ellipse cx="433.9" cy="303.5" rx="10.5" ry="17" fill="#f00800"/>
</g>
<g filter="url(#b2)">
<ellipse cx="68.6" cy="299.0" rx="6.5" ry="15" fill="#ff8c18"/>
<ellipse cx="68.6" cy="336.0" rx="4" ry="17" fill="#ff5a0c" opacity="0.9"/>
<ellipse cx="96.7" cy="299.0" rx="6.5" ry="15" fill="#ff8c18"/>
<ellipse cx="96.7" cy="336.0" rx="4" ry="17" fill="#ff5a0c" opacity="0.9"/>
<ellipse cx="124.8" cy="299.0" rx="6.5" ry="15" fill="#ff8c18"/>
<ellipse cx="124.8" cy="336.0" rx="4" ry="17" fill="#ff5a0c" opacity="0.9"/>
<ellipse cx="152.9" cy="299.0" rx="6.5" ry="15" fill="#ff8c18"/>
<ellipse cx="152.9" cy="336.0" rx="4" ry="17" fill="#ff5a0c" opacity="0.9"/>
<ellipse cx="181.0" cy="299.0" rx="6.5" ry="15" fill="#ff8c18"/>
<ellipse cx="181.0" cy="336.0" rx="4" ry="17" fill="#ff5a0c" opacity="0.9"/>
<ellipse cx="209.1" cy="299.0" rx="6.5" ry="15" fill="#ff8c18"/>
<ellipse cx="209.1" cy="336.0" rx="4" ry="17" fill="#ff5a0c" opacity="0.9"/>
<ellipse cx="237.2" cy="299.0" rx="6.5" ry="15" fill="#ff8c18"/>
<ellipse cx="237.2" cy="336.0" rx="4" ry="17" fill="#ff5a0c" opacity="0.9"/>
<ellipse cx="265.3" cy="305.5" rx="6.5" ry="15" fill="#ff8c18"/>
<ellipse cx="265.3" cy="342.5" rx="4" ry="17" fill="#ff5a0c" opacity="0.9"/>
<ellipse cx="293.4" cy="305.5" rx="6.5" ry="15" fill="#ff8c18"/>
<ellipse cx="293.4" cy="342.5" rx="4" ry="17" fill="#ff5a0c" opacity="0.9"/>
<ellipse cx="321.5" cy="305.5" rx="6.5" ry="15" fill="#ff8c18"/>
<ellipse cx="321.5" cy="342.5" rx="4" ry="17" fill="#ff5a0c" opacity="0.9"/>
<ellipse cx="349.6" cy="305.5" rx="6.5" ry="15" fill="#ff8c18"/>
<ellipse cx="349.6" cy="342.5" rx="4" ry="17" fill="#ff5a0c" opacity="0.9"/>
<ellipse cx="377.7" cy="305.5" rx="6.5" ry="15" fill="#ff8c18"/>
<ellipse cx="377.7" cy="342.5" rx="4" ry="17" fill="#ff5a0c" opacity="0.9"/>
<ellipse cx="405.8" cy="305.5" rx="6.5" ry="15" fill="#ff8c18"/>
<ellipse cx="405.8" cy="342.5" rx="4" ry="17" fill="#ff5a0c" opacity="0.9"/>
<ellipse cx="433.9" cy="305.5" rx="6.5" ry="15" fill="#ff8c18"/>
<ellipse cx="433.9" cy="342.5" rx="4" ry="17" fill="#ff5a0c" opacity="0.9"/>
</g>
<g filter="url(#b1)">
<ellipse cx="68.6" cy="296.5" rx="3.6" ry="8" fill="#ffb82a" opacity="0.95"/>
<ellipse cx="96.7" cy="296.5" rx="3.6" ry="8" fill="#ffb82a" opacity="0.95"/>
<ellipse cx="124.8" cy="296.5" rx="3.6" ry="8" fill="#ffb82a" opacity="0.95"/>
<ellipse cx="152.9" cy="296.5" rx="3.6" ry="8" fill="#ffb82a" opacity="0.95"/>
<ellipse cx="181.0" cy="296.5" rx="3.6" ry="8" fill="#ffb82a" opacity="0.95"/>
<ellipse cx="209.1" cy="296.5" rx="3.6" ry="8" fill="#ffb82a" opacity="0.95"/>
<ellipse cx="237.2" cy="296.5" rx="3.6" ry="8" fill="#ffb82a" opacity="0.95"/>
<ellipse cx="265.3" cy="303.0" rx="3.6" ry="8" fill="#ffb82a" opacity="0.95"/>
<ellipse cx="293.4" cy="303.0" rx="3.6" ry="8" fill="#ffb82a" opacity="0.95"/>
<ellipse cx="321.5" cy="303.0" rx="3.6" ry="8" fill="#ffb82a" opacity="0.95"/>
<ellipse cx="349.6" cy="303.0" rx="3.6" ry="8" fill="#ffb82a" opacity="0.95"/>
<ellipse cx="377.7" cy="303.0" rx="3.6" ry="8" fill="#ffb82a" opacity="0.95"/>
<ellipse cx="405.8" cy="303.0" rx="3.6" ry="8" fill="#ffb82a" opacity="0.95"/>
<ellipse cx="433.9" cy="303.0" rx="3.6" ry="8" fill="#ffb82a" opacity="0.95"/>
</g>
</g>
<path d="M250.3,263.5 L250.3,274.8" stroke="#fff" stroke-width="2.6" fill="none"/>
<path d="M250.3,280.7 L245.7,272.2 L254.9,272.2 Z" fill="#fff"/>
<path d="M250.3,372.5 L250.3,360.9" stroke="#fff" stroke-width="2.6" fill="none"/>
<path d="M250.3,355.0 L245.7,363.5 L254.9,363.5 Z" fill="#fff"/>
<text x="92.2" y="282.5" font-size="16.6" style="fill:#fff;stroke:#fff">DFT</text>
<rect x="82.4" y="372.4" width="336.2" height="2" fill="#333"/>
<path d="M77,169.8 H82.4" stroke="#111" stroke-width="1.2"/>
<text x="70.2" y="175.7" font-size="16.6" text-anchor="end">105</text>
<path d="M77,206.3 H82.4" stroke="#111" stroke-width="1.2"/>
<text x="70.2" y="212.2" font-size="16.6" text-anchor="end">90</text>
<path d="M77,243.4 H82.4" stroke="#111" stroke-width="1.2"/>
<text x="70.2" y="249.3" font-size="16.6" text-anchor="end">75</text>
<path d="M77,287.0 H82.4" stroke="#111" stroke-width="1.2"/>
<text x="70.2" y="292.9" font-size="16.6" text-anchor="end">105</text>
<path d="M77,323.4 H82.4" stroke="#111" stroke-width="1.2"/>
<text x="70.2" y="329.3" font-size="16.6" text-anchor="end">90</text>
<path d="M77,360.4 H82.4" stroke="#111" stroke-width="1.2"/>
<text x="70.2" y="366.3" font-size="16.6" text-anchor="end">75</text>
<text transform="translate(39.2,259.5) rotate(-90)" font-size="16.6" text-anchor="middle">Energy loss (meV)</text>
<text x="26.0" y="36.0" font-size="21" font-weight="bold" style="fill:#111">a</text>
<text x="26.5" y="165.0" font-size="21" font-weight="bold" style="fill:#111">b</text>
<text x="27.0" y="399.0" font-size="21" font-weight="bold" style="fill:#111">c</text>
<text x="453.0" y="31.0" font-size="21" font-weight="bold" style="fill:#111">d</text>
<text x="867.0" y="31.0" font-size="21" font-weight="bold" style="fill:#111">e</text>
<path d="M96.7,391.2 V472.7" stroke="#8a8a8a" stroke-width="1.6"/>
<path d="M124.8,391.2 V472.7" stroke="#8a8a8a" stroke-width="1.6"/>
<path d="M152.9,391.2 V472.7" stroke="#8a8a8a" stroke-width="1.6"/>
<path d="M181.0,391.2 V472.7" stroke="#8a8a8a" stroke-width="1.6"/>
<path d="M209.1,391.2 V472.7" stroke="#8a8a8a" stroke-width="1.6"/>
<path d="M237.2,391.2 V472.7" stroke="#8a8a8a" stroke-width="1.6"/>
<path d="M265.3,391.2 V472.7" stroke="#8a8a8a" stroke-width="1.6"/>
<path d="M293.4,391.2 V472.7" stroke="#8a8a8a" stroke-width="1.6"/>
<path d="M321.5,391.2 V472.7" stroke="#8a8a8a" stroke-width="1.6"/>
<path d="M349.6,391.2 V472.7" stroke="#8a8a8a" stroke-width="1.6"/>
<path d="M377.7,391.2 V472.7" stroke="#8a8a8a" stroke-width="1.6"/>
<path d="M405.8,391.2 V472.7" stroke="#8a8a8a" stroke-width="1.6"/>
<circle cx="96.7" cy="397.5" r="4.2" fill="#a0a6c8"/>
<circle cx="96.7" cy="391.2" r="4.2" fill="#e2001a"/>
<circle cx="96.7" cy="416.3" r="4.2" fill="#a0a6c8"/>
<circle cx="96.7" cy="410.0" r="4.2" fill="#e2001a"/>
<circle cx="96.7" cy="435.1" r="4.2" fill="#a0a6c8"/>
<circle cx="96.7" cy="428.8" r="4.2" fill="#e2001a"/>
<circle cx="96.7" cy="453.9" r="4.2" fill="#a0a6c8"/>
<circle cx="96.7" cy="447.6" r="4.2" fill="#e2001a"/>
<circle cx="96.7" cy="472.7" r="4.2" fill="#a0a6c8"/>
<circle cx="96.7" cy="466.4" r="4.2" fill="#e2001a"/>
<circle cx="124.8" cy="391.2" r="4.2" fill="#a0a6c8"/>
<circle cx="124.8" cy="397.5" r="4.2" fill="#e2001a"/>
<circle cx="124.8" cy="410.0" r="4.2" fill="#a0a6c8"/>
<circle cx="124.8" cy="416.3" r="4.2" fill="#e2001a"/>
<circle cx="124.8" cy="428.8" r="4.2" fill="#a0a6c8"/>
<circle cx="124.8" cy="435.1" r="4.2" fill="#e2001a"/>
<circle cx="124.8" cy="447.6" r="4.2" fill="#a0a6c8"/>
<circle cx="124.8" cy="453.9" r="4.2" fill="#e2001a"/>
<circle cx="124.8" cy="466.4" r="4.2" fill="#a0a6c8"/>
<circle cx="124.8" cy="472.7" r="4.2" fill="#e2001a"/>
<circle cx="152.9" cy="397.5" r="4.2" fill="#a0a6c8"/>
<circle cx="152.9" cy="391.2" r="4.2" fill="#e2001a"/>
<circle cx="152.9" cy="416.3" r="4.2" fill="#a0a6c8"/>
<circle cx="152.9" cy="410.0" r="4.2" fill="#e2001a"/>
<circle cx="152.9" cy="435.1" r="4.2" fill="#a0a6c8"/>
<circle cx="152.9" cy="428.8" r="4.2" fill="#e2001a"/>
<circle cx="152.9" cy="453.9" r="4.2" fill="#a0a6c8"/>
<circle cx="152.9" cy="447.6" r="4.2" fill="#e2001a"/>
<circle cx="152.9" cy="472.7" r="4.2" fill="#a0a6c8"/>
<circle cx="152.9" cy="466.4" r="4.2" fill="#e2001a"/>
<circle cx="181.0" cy="391.2" r="4.2" fill="#a0a6c8"/>
<circle cx="181.0" cy="397.5" r="4.2" fill="#e2001a"/>
<circle cx="181.0" cy="410.0" r="4.2" fill="#a0a6c8"/>
<circle cx="181.0" cy="416.3" r="4.2" fill="#e2001a"/>
<circle cx="181.0" cy="428.8" r="4.2" fill="#a0a6c8"/>
<circle cx="181.0" cy="435.1" r="4.2" fill="#e2001a"/>
<circle cx="181.0" cy="447.6" r="4.2" fill="#a0a6c8"/>
<circle cx="181.0" cy="453.9" r="4.2" fill="#e2001a"/>
<circle cx="181.0" cy="466.4" r="4.2" fill="#a0a6c8"/>
<circle cx="181.0" cy="472.7" r="4.2" fill="#e2001a"/>
<circle cx="209.1" cy="397.5" r="4.2" fill="#a0a6c8"/>
<circle cx="209.1" cy="391.2" r="4.2" fill="#e2001a"/>
<circle cx="209.1" cy="416.3" r="4.2" fill="#a0a6c8"/>
<circle cx="209.1" cy="410.0" r="4.2" fill="#e2001a"/>
<circle cx="209.1" cy="435.1" r="4.2" fill="#a0a6c8"/>
<circle cx="209.1" cy="428.8" r="4.2" fill="#e2001a"/>
<circle cx="209.1" cy="453.9" r="4.2" fill="#a0a6c8"/>
<circle cx="209.1" cy="447.6" r="4.2" fill="#e2001a"/>
<circle cx="209.1" cy="472.7" r="4.2" fill="#a0a6c8"/>
<circle cx="209.1" cy="466.4" r="4.2" fill="#e2001a"/>
<circle cx="237.2" cy="391.2" r="4.2" fill="#a0a6c8"/>
<circle cx="237.2" cy="397.5" r="4.2" fill="#e2001a"/>
<circle cx="237.2" cy="410.0" r="4.2" fill="#a0a6c8"/>
<circle cx="237.2" cy="416.3" r="4.2" fill="#e2001a"/>
<circle cx="237.2" cy="428.8" r="4.2" fill="#a0a6c8"/>
<circle cx="237.2" cy="435.1" r="4.2" fill="#e2001a"/>
<circle cx="237.2" cy="447.6" r="4.2" fill="#a0a6c8"/>
<circle cx="237.2" cy="453.9" r="4.2" fill="#e2001a"/>
<circle cx="237.2" cy="466.4" r="4.2" fill="#a0a6c8"/>
<circle cx="237.2" cy="472.7" r="4.2" fill="#e2001a"/>
<circle cx="265.3" cy="397.5" r="4.2" fill="#a0a6c8"/>
<circle cx="265.3" cy="391.2" r="4.2" fill="#1486e6"/>
<circle cx="265.3" cy="416.3" r="4.2" fill="#a0a6c8"/>
<circle cx="265.3" cy="410.0" r="4.2" fill="#1486e6"/>
<circle cx="265.3" cy="435.1" r="4.2" fill="#a0a6c8"/>
<circle cx="265.3" cy="428.8" r="4.2" fill="#1486e6"/>
<circle cx="265.3" cy="453.9" r="4.2" fill="#a0a6c8"/>
<circle cx="265.3" cy="447.6" r="4.2" fill="#1486e6"/>
<circle cx="265.3" cy="472.7" r="4.2" fill="#a0a6c8"/>
<circle cx="265.3" cy="466.4" r="4.2" fill="#1486e6"/>
<circle cx="293.4" cy="391.2" r="4.2" fill="#a0a6c8"/>
<circle cx="293.4" cy="397.5" r="4.2" fill="#1486e6"/>
<circle cx="293.4" cy="410.0" r="4.2" fill="#a0a6c8"/>
<circle cx="293.4" cy="416.3" r="4.2" fill="#1486e6"/>
<circle cx="293.4" cy="428.8" r="4.2" fill="#a0a6c8"/>
<circle cx="293.4" cy="435.1" r="4.2" fill="#1486e6"/>
<circle cx="293.4" cy="447.6" r="4.2" fill="#a0a6c8"/>
<circle cx="293.4" cy="453.9" r="4.2" fill="#1486e6"/>
<circle cx="293.4" cy="466.4" r="4.2" fill="#a0a6c8"/>
<circle cx="293.4" cy="472.7" r="4.2" fill="#1486e6"/>
<circle cx="321.5" cy="397.5" r="4.2" fill="#a0a6c8"/>
<circle cx="321.5" cy="391.2" r="4.2" fill="#1486e6"/>
<circle cx="321.5" cy="416.3" r="4.2" fill="#a0a6c8"/>
<circle cx="321.5" cy="410.0" r="4.2" fill="#1486e6"/>
<circle cx="321.5" cy="435.1" r="4.2" fill="#a0a6c8"/>
<circle cx="321.5" cy="428.8" r="4.2" fill="#1486e6"/>
<circle cx="321.5" cy="453.9" r="4.2" fill="#a0a6c8"/>
<circle cx="321.5" cy="447.6" r="4.2" fill="#1486e6"/>
<circle cx="321.5" cy="472.7" r="4.2" fill="#a0a6c8"/>
<circle cx="321.5" cy="466.4" r="4.2" fill="#1486e6"/>
<circle cx="349.6" cy="391.2" r="4.2" fill="#a0a6c8"/>
<circle cx="349.6" cy="397.5" r="4.2" fill="#1486e6"/>
<circle cx="349.6" cy="410.0" r="4.2" fill="#a0a6c8"/>
<circle cx="349.6" cy="416.3" r="4.2" fill="#1486e6"/>
<circle cx="349.6" cy="428.8" r="4.2" fill="#a0a6c8"/>
<circle cx="349.6" cy="435.1" r="4.2" fill="#1486e6"/>
<circle cx="349.6" cy="447.6" r="4.2" fill="#a0a6c8"/>
<circle cx="349.6" cy="453.9" r="4.2" fill="#1486e6"/>
<circle cx="349.6" cy="466.4" r="4.2" fill="#a0a6c8"/>
<circle cx="349.6" cy="472.7" r="4.2" fill="#1486e6"/>
<circle cx="377.7" cy="397.5" r="4.2" fill="#a0a6c8"/>
<circle cx="377.7" cy="391.2" r="4.2" fill="#1486e6"/>
<circle cx="377.7" cy="416.3" r="4.2" fill="#a0a6c8"/>
<circle cx="377.7" cy="410.0" r="4.2" fill="#1486e6"/>
<circle cx="377.7" cy="435.1" r="4.2" fill="#a0a6c8"/>
<circle cx="377.7" cy="428.8" r="4.2" fill="#1486e6"/>
<circle cx="377.7" cy="453.9" r="4.2" fill="#a0a6c8"/>
<circle cx="377.7" cy="447.6" r="4.2" fill="#1486e6"/>
<circle cx="377.7" cy="472.7" r="4.2" fill="#a0a6c8"/>
<circle cx="377.7" cy="466.4" r="4.2" fill="#1486e6"/>
<circle cx="405.8" cy="391.2" r="4.2" fill="#a0a6c8"/>
<circle cx="405.8" cy="397.5" r="4.2" fill="#1486e6"/>
<circle cx="405.8" cy="410.0" r="4.2" fill="#a0a6c8"/>
<circle cx="405.8" cy="416.3" r="4.2" fill="#1486e6"/>
<circle cx="405.8" cy="428.8" r="4.2" fill="#a0a6c8"/>
<circle cx="405.8" cy="435.1" r="4.2" fill="#1486e6"/>
<circle cx="405.8" cy="447.6" r="4.2" fill="#a0a6c8"/>
<circle cx="405.8" cy="453.9" r="4.2" fill="#1486e6"/>
<circle cx="405.8" cy="466.4" r="4.2" fill="#a0a6c8"/>
<circle cx="405.8" cy="472.7" r="4.2" fill="#1486e6"/>
<path d="M97.7,391.2 H88.4" stroke="#000" stroke-width="1.5" fill="none"/>
<path d="M86.2,391.2 L89.8,389.2 L89.8,393.2 Z" fill="#000"/>
<path d="M95.7,397.5 H103.0" stroke="#000" stroke-width="1.4" fill="none"/>
<path d="M105.2,397.5 L101.6,395.5 L101.6,399.5 Z" fill="#000"/>
<path d="M97.7,410.0 H88.4" stroke="#000" stroke-width="1.0" fill="none"/>
<path d="M86.2,410.0 L89.8,408.0 L89.8,412.0 Z" fill="#000"/>
<path d="M95.7,416.3 H103.0" stroke="#000" stroke-width="0.9" fill="none"/>
<path d="M105.2,416.3 L101.6,414.3 L101.6,418.3 Z" fill="#000"/>
<path d="M97.7,428.8 H88.4" stroke="#000" stroke-width="1.5" fill="none"/>
<path d="M86.2,428.8 L89.8,426.8 L89.8,430.8 Z" fill="#000"/>
<path d="M95.7,435.1 H103.0" stroke="#000" stroke-width="1.4" fill="none"/>
<path d="M105.2,435.1 L101.6,433.1 L101.6,437.1 Z" fill="#000"/>
<path d="M97.7,447.6 H88.4" stroke="#000" stroke-width="1.0" fill="none"/>
<path d="M86.2,447.6 L89.8,445.6 L89.8,449.6 Z" fill="#000"/>
<path d="M95.7,453.9 H103.0" stroke="#000" stroke-width="0.9" fill="none"/>
<path d="M105.2,453.9 L101.6,451.9 L101.6,455.9 Z" fill="#000"/>
<path d="M97.7,466.4 H88.4" stroke="#000" stroke-width="1.5" fill="none"/>
<path d="M86.2,466.4 L89.8,464.4 L89.8,468.4 Z" fill="#000"/>
<path d="M95.7,472.7 H103.0" stroke="#000" stroke-width="1.4" fill="none"/>
<path d="M105.2,472.7 L101.6,470.7 L101.6,474.7 Z" fill="#000"/>
<path d="M125.8,397.5 H116.5" stroke="#000" stroke-width="1.5" fill="none"/>
<path d="M114.3,397.5 L117.9,395.5 L117.9,399.5 Z" fill="#000"/>
<path d="M123.8,391.2 H131.1" stroke="#000" stroke-width="1.4" fill="none"/>
<path d="M133.3,391.2 L129.7,389.2 L129.7,393.2 Z" fill="#000"/>
<path d="M125.8,416.3 H116.5" stroke="#000" stroke-width="1.0" fill="none"/>
<path d="M114.3,416.3 L117.9,414.3 L117.9,418.3 Z" fill="#000"/>
<path d="M123.8,410.0 H131.1" stroke="#000" stroke-width="0.9" fill="none"/>
<path d="M133.3,410.0 L129.7,408.0 L129.7,412.0 Z" fill="#000"/>
<path d="M125.8,435.1 H116.5" stroke="#000" stroke-width="1.5" fill="none"/>
<path d="M114.3,435.1 L117.9,433.1 L117.9,437.1 Z" fill="#000"/>
<path d="M123.8,428.8 H131.1" stroke="#000" stroke-width="1.4" fill="none"/>
<path d="M133.3,428.8 L129.7,426.8 L129.7,430.8 Z" fill="#000"/>
<path d="M125.8,453.9 H116.5" stroke="#000" stroke-width="1.0" fill="none"/>
<path d="M114.3,453.9 L117.9,451.9 L117.9,455.9 Z" fill="#000"/>
<path d="M123.8,447.6 H131.1" stroke="#000" stroke-width="0.9" fill="none"/>
<path d="M133.3,447.6 L129.7,445.6 L129.7,449.6 Z" fill="#000"/>
<path d="M125.8,472.7 H116.5" stroke="#000" stroke-width="1.5" fill="none"/>
<path d="M114.3,472.7 L117.9,470.7 L117.9,474.7 Z" fill="#000"/>
<path d="M123.8,466.4 H131.1" stroke="#000" stroke-width="1.4" fill="none"/>
<path d="M133.3,466.4 L129.7,464.4 L129.7,468.4 Z" fill="#000"/>
<path d="M153.9,391.2 H144.6" stroke="#000" stroke-width="1.5" fill="none"/>
<path d="M142.4,391.2 L146.0,389.2 L146.0,393.2 Z" fill="#000"/>
<path d="M151.9,397.5 H159.2" stroke="#000" stroke-width="1.4" fill="none"/>
<path d="M161.4,397.5 L157.8,395.5 L157.8,399.5 Z" fill="#000"/>
<path d="M153.9,410.0 H144.6" stroke="#000" stroke-width="1.0" fill="none"/>
<path d="M142.4,410.0 L146.0,408.0 L146.0,412.0 Z" fill="#000"/>
<path d="M151.9,416.3 H159.2" stroke="#000" stroke-width="0.9" fill="none"/>
<path d="M161.4,416.3 L157.8,414.3 L157.8,418.3 Z" fill="#000"/>
<path d="M153.9,428.8 H144.6" stroke="#000" stroke-width="1.5" fill="none"/>
<path d="M142.4,428.8 L146.0,426.8 L146.0,430.8 Z" fill="#000"/>
<path d="M151.9,435.1 H159.2" stroke="#000" stroke-width="1.4" fill="none"/>
<path d="M161.4,435.1 L157.8,433.1 L157.8,437.1 Z" fill="#000"/>
<path d="M153.9,447.6 H144.6" stroke="#000" stroke-width="1.0" fill="none"/>
<path d="M142.4,447.6 L146.0,445.6 L146.0,449.6 Z" fill="#000"/>
<path d="M151.9,453.9 H159.2" stroke="#000" stroke-width="0.9" fill="none"/>
<path d="M161.4,453.9 L157.8,451.9 L157.8,455.9 Z" fill="#000"/>
<path d="M153.9,466.4 H144.6" stroke="#000" stroke-width="1.5" fill="none"/>
<path d="M142.4,466.4 L146.0,464.4 L146.0,468.4 Z" fill="#000"/>
<path d="M151.9,472.7 H159.2" stroke="#000" stroke-width="1.4" fill="none"/>
<path d="M161.4,472.7 L157.8,470.7 L157.8,474.7 Z" fill="#000"/>
<path d="M182.0,397.5 H172.7" stroke="#000" stroke-width="1.5" fill="none"/>
<path d="M170.5,397.5 L174.1,395.5 L174.1,399.5 Z" fill="#000"/>
<path d="M180.0,391.2 H187.3" stroke="#000" stroke-width="1.4" fill="none"/>
<path d="M189.5,391.2 L185.9,389.2 L185.9,393.2 Z" fill="#000"/>
<path d="M182.0,416.3 H172.7" stroke="#000" stroke-width="1.0" fill="none"/>
<path d="M170.5,416.3 L174.1,414.3 L174.1,418.3 Z" fill="#000"/>
<path d="M180.0,410.0 H187.3" stroke="#000" stroke-width="0.9" fill="none"/>
<path d="M189.5,410.0 L185.9,408.0 L185.9,412.0 Z" fill="#000"/>
<path d="M182.0,435.1 H172.7" stroke="#000" stroke-width="1.5" fill="none"/>
<path d="M170.5,435.1 L174.1,433.1 L174.1,437.1 Z" fill="#000"/>
<path d="M180.0,428.8 H187.3" stroke="#000" stroke-width="1.4" fill="none"/>
<path d="M189.5,428.8 L185.9,426.8 L185.9,430.8 Z" fill="#000"/>
<path d="M182.0,453.9 H172.7" stroke="#000" stroke-width="1.0" fill="none"/>
<path d="M170.5,453.9 L174.1,451.9 L174.1,455.9 Z" fill="#000"/>
<path d="M180.0,447.6 H187.3" stroke="#000" stroke-width="0.9" fill="none"/>
<path d="M189.5,447.6 L185.9,445.6 L185.9,449.6 Z" fill="#000"/>
<path d="M182.0,472.7 H172.7" stroke="#000" stroke-width="1.5" fill="none"/>
<path d="M170.5,472.7 L174.1,470.7 L174.1,474.7 Z" fill="#000"/>
<path d="M180.0,466.4 H187.3" stroke="#000" stroke-width="1.4" fill="none"/>
<path d="M189.5,466.4 L185.9,464.4 L185.9,468.4 Z" fill="#000"/>
<path d="M210.1,391.2 H200.8" stroke="#000" stroke-width="1.5" fill="none"/>
<path d="M198.6,391.2 L202.2,389.2 L202.2,393.2 Z" fill="#000"/>
<path d="M208.1,397.5 H215.4" stroke="#000" stroke-width="1.4" fill="none"/>
<path d="M217.6,397.5 L214.0,395.5 L214.0,399.5 Z" fill="#000"/>
<path d="M210.1,410.0 H200.8" stroke="#000" stroke-width="1.0" fill="none"/>
<path d="M198.6,410.0 L202.2,408.0 L202.2,412.0 Z" fill="#000"/>
<path d="M208.1,416.3 H215.4" stroke="#000" stroke-width="0.9" fill="none"/>
<path d="M217.6,416.3 L214.0,414.3 L214.0,418.3 Z" fill="#000"/>
<path d="M210.1,428.8 H200.8" stroke="#000" stroke-width="1.5" fill="none"/>
<path d="M198.6,428.8 L202.2,426.8 L202.2,430.8 Z" fill="#000"/>
<path d="M208.1,435.1 H215.4" stroke="#000" stroke-width="1.4" fill="none"/>
<path d="M217.6,435.1 L214.0,433.1 L214.0,437.1 Z" fill="#000"/>
<path d="M210.1,447.6 H200.8" stroke="#000" stroke-width="1.0" fill="none"/>
<path d="M198.6,447.6 L202.2,445.6 L202.2,449.6 Z" fill="#000"/>
<path d="M208.1,453.9 H215.4" stroke="#000" stroke-width="0.9" fill="none"/>
<path d="M217.6,453.9 L214.0,451.9 L214.0,455.9 Z" fill="#000"/>
<path d="M210.1,466.4 H200.8" stroke="#000" stroke-width="1.5" fill="none"/>
<path d="M198.6,466.4 L202.2,464.4 L202.2,468.4 Z" fill="#000"/>
<path d="M208.1,472.7 H215.4" stroke="#000" stroke-width="1.4" fill="none"/>
<path d="M217.6,472.7 L214.0,470.7 L214.0,474.7 Z" fill="#000"/>
<path d="M237.2,397.5 H220.9" stroke="#000" stroke-width="1.5" fill="none"/>
<path d="M218.7,397.5 L222.3,395.5 L222.3,399.5 Z" fill="#000"/>
<path d="M237.2,391.2 H250.0" stroke="#000" stroke-width="1.5" fill="none"/>
<path d="M252.2,391.2 L248.6,389.2 L248.6,393.2 Z" fill="#000"/>
<path d="M237.2,416.3 H220.9" stroke="#000" stroke-width="1.0" fill="none"/>
<path d="M218.7,416.3 L222.3,414.3 L222.3,418.3 Z" fill="#000"/>
<path d="M237.2,410.0 H250.0" stroke="#000" stroke-width="1.0" fill="none"/>
<path d="M252.2,410.0 L248.6,408.0 L248.6,412.0 Z" fill="#000"/>
<path d="M237.2,435.1 H220.9" stroke="#000" stroke-width="1.5" fill="none"/>
<path d="M218.7,435.1 L222.3,433.1 L222.3,437.1 Z" fill="#000"/>
<path d="M237.2,428.8 H250.0" stroke="#000" stroke-width="1.5" fill="none"/>
<path d="M252.2,428.8 L248.6,426.8 L248.6,430.8 Z" fill="#000"/>
<path d="M237.2,453.9 H220.9" stroke="#000" stroke-width="1.0" fill="none"/>
<path d="M218.7,453.9 L222.3,451.9 L222.3,455.9 Z" fill="#000"/>
<path d="M237.2,447.6 H250.0" stroke="#000" stroke-width="1.0" fill="none"/>
<path d="M252.2,447.6 L248.6,445.6 L248.6,449.6 Z" fill="#000"/>
<path d="M237.2,472.7 H220.9" stroke="#000" stroke-width="1.5" fill="none"/>
<path d="M218.7,472.7 L222.3,470.7 L222.3,474.7 Z" fill="#000"/>
<path d="M237.2,466.4 H250.0" stroke="#000" stroke-width="1.5" fill="none"/>
<path d="M252.2,466.4 L248.6,464.4 L248.6,468.4 Z" fill="#000"/>
<path d="M264.3,391.2 H271.6" stroke="#000" stroke-width="1.5" fill="none"/>
<path d="M273.8,391.2 L270.2,389.2 L270.2,393.2 Z" fill="#000"/>
<path d="M266.3,397.5 H261.0" stroke="#000" stroke-width="1.2" fill="none"/>
<path d="M258.8,397.5 L262.4,395.5 L262.4,399.5 Z" fill="#000"/>
<path d="M264.3,410.0 H271.6" stroke="#000" stroke-width="1.0" fill="none"/>
<path d="M273.8,410.0 L270.2,408.0 L270.2,412.0 Z" fill="#000"/>
<path d="M266.3,416.3 H261.0" stroke="#000" stroke-width="0.8" fill="none"/>
<path d="M258.8,416.3 L262.4,414.3 L262.4,418.3 Z" fill="#000"/>
<path d="M264.3,428.8 H271.6" stroke="#000" stroke-width="1.5" fill="none"/>
<path d="M273.8,428.8 L270.2,426.8 L270.2,430.8 Z" fill="#000"/>
<path d="M266.3,435.1 H261.0" stroke="#000" stroke-width="1.2" fill="none"/>
<path d="M258.8,435.1 L262.4,433.1 L262.4,437.1 Z" fill="#000"/>
<path d="M264.3,447.6 H271.6" stroke="#000" stroke-width="1.0" fill="none"/>
<path d="M273.8,447.6 L270.2,445.6 L270.2,449.6 Z" fill="#000"/>
<path d="M266.3,453.9 H261.0" stroke="#000" stroke-width="0.8" fill="none"/>
<path d="M258.8,453.9 L262.4,451.9 L262.4,455.9 Z" fill="#000"/>
<path d="M264.3,466.4 H271.6" stroke="#000" stroke-width="1.5" fill="none"/>
<path d="M273.8,466.4 L270.2,464.4 L270.2,468.4 Z" fill="#000"/>
<path d="M266.3,472.7 H261.0" stroke="#000" stroke-width="1.2" fill="none"/>
<path d="M258.8,472.7 L262.4,470.7 L262.4,474.7 Z" fill="#000"/>
<path d="M292.4,397.5 H299.7" stroke="#000" stroke-width="1.5" fill="none"/>
<path d="M301.9,397.5 L298.3,395.5 L298.3,399.5 Z" fill="#000"/>
<path d="M294.4,391.2 H289.1" stroke="#000" stroke-width="1.2" fill="none"/>
<path d="M286.9,391.2 L290.5,389.2 L290.5,393.2 Z" fill="#000"/>
<path d="M292.4,416.3 H299.7" stroke="#000" stroke-width="1.0" fill="none"/>
<path d="M301.9,416.3 L298.3,414.3 L298.3,418.3 Z" fill="#000"/>
<path d="M294.4,410.0 H289.1" stroke="#000" stroke-width="0.8" fill="none"/>
<path d="M286.9,410.0 L290.5,408.0 L290.5,412.0 Z" fill="#000"/>
<path d="M292.4,435.1 H299.7" stroke="#000" stroke-width="1.5" fill="none"/>
<path d="M301.9,435.1 L298.3,433.1 L298.3,437.1 Z" fill="#000"/>
<path d="M294.4,428.8 H289.1" stroke="#000" stroke-width="1.2" fill="none"/>
<path d="M286.9,428.8 L290.5,426.8 L290.5,430.8 Z" fill="#000"/>
<path d="M292.4,453.9 H299.7" stroke="#000" stroke-width="1.0" fill="none"/>
<path d="M301.9,453.9 L298.3,451.9 L298.3,455.9 Z" fill="#000"/>
<path d="M294.4,447.6 H289.1" stroke="#000" stroke-width="0.8" fill="none"/>
<path d="M286.9,447.6 L290.5,445.6 L290.5,449.6 Z" fill="#000"/>
<path d="M292.4,472.7 H299.7" stroke="#000" stroke-width="1.5" fill="none"/>
<path d="M301.9,472.7 L298.3,470.7 L298.3,474.7 Z" fill="#000"/>
<path d="M294.4,466.4 H289.1" stroke="#000" stroke-width="1.2" fill="none"/>
<path d="M286.9,466.4 L290.5,464.4 L290.5,468.4 Z" fill="#000"/>
<path d="M320.5,391.2 H327.8" stroke="#000" stroke-width="1.5" fill="none"/>
<path d="M330.0,391.2 L326.4,389.2 L326.4,393.2 Z" fill="#000"/>
<path d="M322.5,397.5 H317.2" stroke="#000" stroke-width="1.2" fill="none"/>
<path d="M315.0,397.5 L318.6,395.5 L318.6,399.5 Z" fill="#000"/>
<path d="M320.5,410.0 H327.8" stroke="#000" stroke-width="1.0" fill="none"/>
<path d="M330.0,410.0 L326.4,408.0 L326.4,412.0 Z" fill="#000"/>
<path d="M322.5,416.3 H317.2" stroke="#000" stroke-width="0.8" fill="none"/>
<path d="M315.0,416.3 L318.6,414.3 L318.6,418.3 Z" fill="#000"/>
<path d="M320.5,428.8 H327.8" stroke="#000" stroke-width="1.5" fill="none"/>
<path d="M330.0,428.8 L326.4,426.8 L326.4,430.8 Z" fill="#000"/>
<path d="M322.5,435.1 H317.2" stroke="#000" stroke-width="1.2" fill="none"/>
<path d="M315.0,435.1 L318.6,433.1 L318.6,437.1 Z" fill="#000"/>
<path d="M320.5,447.6 H327.8" stroke="#000" stroke-width="1.0" fill="none"/>
<path d="M330.0,447.6 L326.4,445.6 L326.4,449.6 Z" fill="#000"/>
<path d="M322.5,453.9 H317.2" stroke="#000" stroke-width="0.8" fill="none"/>
<path d="M315.0,453.9 L318.6,451.9 L318.6,455.9 Z" fill="#000"/>
<path d="M320.5,466.4 H327.8" stroke="#000" stroke-width="1.5" fill="none"/>
<path d="M330.0,466.4 L326.4,464.4 L326.4,468.4 Z" fill="#000"/>
<path d="M322.5,472.7 H317.2" stroke="#000" stroke-width="1.2" fill="none"/>
<path d="M315.0,472.7 L318.6,470.7 L318.6,474.7 Z" fill="#000"/>
<path d="M348.6,397.5 H355.9" stroke="#000" stroke-width="1.5" fill="none"/>
<path d="M358.1,397.5 L354.5,395.5 L354.5,399.5 Z" fill="#000"/>
<path d="M350.6,391.2 H345.3" stroke="#000" stroke-width="1.2" fill="none"/>
<path d="M343.1,391.2 L346.7,389.2 L346.7,393.2 Z" fill="#000"/>
<path d="M348.6,416.3 H355.9" stroke="#000" stroke-width="1.0" fill="none"/>
<path d="M358.1,416.3 L354.5,414.3 L354.5,418.3 Z" fill="#000"/>
<path d="M350.6,410.0 H345.3" stroke="#000" stroke-width="0.8" fill="none"/>
<path d="M343.1,410.0 L346.7,408.0 L346.7,412.0 Z" fill="#000"/>
<path d="M348.6,435.1 H355.9" stroke="#000" stroke-width="1.5" fill="none"/>
<path d="M358.1,435.1 L354.5,433.1 L354.5,437.1 Z" fill="#000"/>
<path d="M350.6,428.8 H345.3" stroke="#000" stroke-width="1.2" fill="none"/>
<path d="M343.1,428.8 L346.7,426.8 L346.7,430.8 Z" fill="#000"/>
<path d="M348.6,453.9 H355.9" stroke="#000" stroke-width="1.0" fill="none"/>
<path d="M358.1,453.9 L354.5,451.9 L354.5,455.9 Z" fill="#000"/>
<path d="M350.6,447.6 H345.3" stroke="#000" stroke-width="0.8" fill="none"/>
<path d="M343.1,447.6 L346.7,445.6 L346.7,449.6 Z" fill="#000"/>
<path d="M348.6,472.7 H355.9" stroke="#000" stroke-width="1.5" fill="none"/>
<path d="M358.1,472.7 L354.5,470.7 L354.5,474.7 Z" fill="#000"/>
<path d="M350.6,466.4 H345.3" stroke="#000" stroke-width="1.2" fill="none"/>
<path d="M343.1,466.4 L346.7,464.4 L346.7,468.4 Z" fill="#000"/>
<path d="M376.7,391.2 H384.0" stroke="#000" stroke-width="1.5" fill="none"/>
<path d="M386.2,391.2 L382.6,389.2 L382.6,393.2 Z" fill="#000"/>
<path d="M378.7,397.5 H373.4" stroke="#000" stroke-width="1.2" fill="none"/>
<path d="M371.2,397.5 L374.8,395.5 L374.8,399.5 Z" fill="#000"/>
<path d="M376.7,410.0 H384.0" stroke="#000" stroke-width="1.0" fill="none"/>
<path d="M386.2,410.0 L382.6,408.0 L382.6,412.0 Z" fill="#000"/>
<path d="M378.7,416.3 H373.4" stroke="#000" stroke-width="0.8" fill="none"/>
<path d="M371.2,416.3 L374.8,414.3 L374.8,418.3 Z" fill="#000"/>
<path d="M376.7,428.8 H384.0" stroke="#000" stroke-width="1.5" fill="none"/>
<path d="M386.2,428.8 L382.6,426.8 L382.6,430.8 Z" fill="#000"/>
<path d="M378.7,435.1 H373.4" stroke="#000" stroke-width="1.2" fill="none"/>
<path d="M371.2,435.1 L374.8,433.1 L374.8,437.1 Z" fill="#000"/>
<path d="M376.7,447.6 H384.0" stroke="#000" stroke-width="1.0" fill="none"/>
<path d="M386.2,447.6 L382.6,445.6 L382.6,449.6 Z" fill="#000"/>
<path d="M378.7,453.9 H373.4" stroke="#000" stroke-width="0.8" fill="none"/>
<path d="M371.2,453.9 L374.8,451.9 L374.8,455.9 Z" fill="#000"/>
<path d="M376.7,466.4 H384.0" stroke="#000" stroke-width="1.5" fill="none"/>
<path d="M386.2,466.4 L382.6,464.4 L382.6,468.4 Z" fill="#000"/>
<path d="M378.7,472.7 H373.4" stroke="#000" stroke-width="1.2" fill="none"/>
<path d="M371.2,472.7 L374.8,470.7 L374.8,474.7 Z" fill="#000"/>
<path d="M404.8,397.5 H412.1" stroke="#000" stroke-width="1.5" fill="none"/>
<path d="M414.3,397.5 L410.7,395.5 L410.7,399.5 Z" fill="#000"/>
<path d="M406.8,391.2 H401.5" stroke="#000" stroke-width="1.2" fill="none"/>
<path d="M399.3,391.2 L402.9,389.2 L402.9,393.2 Z" fill="#000"/>
<path d="M404.8,416.3 H412.1" stroke="#000" stroke-width="1.0" fill="none"/>
<path d="M414.3,416.3 L410.7,414.3 L410.7,418.3 Z" fill="#000"/>
<path d="M406.8,410.0 H401.5" stroke="#000" stroke-width="0.8" fill="none"/>
<path d="M399.3,410.0 L402.9,408.0 L402.9,412.0 Z" fill="#000"/>
<path d="M404.8,435.1 H412.1" stroke="#000" stroke-width="1.5" fill="none"/>
<path d="M414.3,435.1 L410.7,433.1 L410.7,437.1 Z" fill="#000"/>
<path d="M406.8,428.8 H401.5" stroke="#000" stroke-width="1.2" fill="none"/>
<path d="M399.3,428.8 L402.9,426.8 L402.9,430.8 Z" fill="#000"/>
<path d="M404.8,453.9 H412.1" stroke="#000" stroke-width="1.0" fill="none"/>
<path d="M414.3,453.9 L410.7,451.9 L410.7,455.9 Z" fill="#000"/>
<path d="M406.8,447.6 H401.5" stroke="#000" stroke-width="0.8" fill="none"/>
<path d="M399.3,447.6 L402.9,445.6 L402.9,449.6 Z" fill="#000"/>
<path d="M404.8,472.7 H412.1" stroke="#000" stroke-width="1.5" fill="none"/>
<path d="M414.3,472.7 L410.7,470.7 L410.7,474.7 Z" fill="#000"/>
<path d="M406.8,466.4 H401.5" stroke="#000" stroke-width="1.2" fill="none"/>
<path d="M399.3,466.4 L402.9,464.4 L402.9,468.4 Z" fill="#000"/>
<path d="M96.7,490.7 V572.2" stroke="#8a8a8a" stroke-width="1.6"/>
<path d="M124.8,490.7 V572.2" stroke="#8a8a8a" stroke-width="1.6"/>
<path d="M152.9,490.7 V572.2" stroke="#8a8a8a" stroke-width="1.6"/>
<path d="M181.0,490.7 V572.2" stroke="#8a8a8a" stroke-width="1.6"/>
<path d="M209.1,490.7 V572.2" stroke="#8a8a8a" stroke-width="1.6"/>
<path d="M237.2,490.7 V572.2" stroke="#8a8a8a" stroke-width="1.6"/>
<path d="M265.3,490.7 V572.2" stroke="#8a8a8a" stroke-width="1.6"/>
<path d="M293.4,490.7 V572.2" stroke="#8a8a8a" stroke-width="1.6"/>
<path d="M321.5,490.7 V572.2" stroke="#8a8a8a" stroke-width="1.6"/>
<path d="M349.6,490.7 V572.2" stroke="#8a8a8a" stroke-width="1.6"/>
<path d="M377.7,490.7 V572.2" stroke="#8a8a8a" stroke-width="1.6"/>
<path d="M405.8,490.7 V572.2" stroke="#8a8a8a" stroke-width="1.6"/>
<circle cx="96.7" cy="497.0" r="4.2" fill="#a0a6c8"/>
<circle cx="96.7" cy="490.7" r="4.2" fill="#e2001a"/>
<circle cx="96.7" cy="515.8" r="4.2" fill="#a0a6c8"/>
<circle cx="96.7" cy="509.5" r="4.2" fill="#e2001a"/>
<circle cx="96.7" cy="534.6" r="4.2" fill="#a0a6c8"/>
<circle cx="96.7" cy="528.3" r="4.2" fill="#e2001a"/>
<circle cx="96.7" cy="553.4" r="4.2" fill="#a0a6c8"/>
<circle cx="96.7" cy="547.1" r="4.2" fill="#e2001a"/>
<circle cx="96.7" cy="572.2" r="4.2" fill="#a0a6c8"/>
<circle cx="96.7" cy="565.9" r="4.2" fill="#e2001a"/>
<circle cx="124.8" cy="490.7" r="4.2" fill="#a0a6c8"/>
<circle cx="124.8" cy="497.0" r="4.2" fill="#e2001a"/>
<circle cx="124.8" cy="509.5" r="4.2" fill="#a0a6c8"/>
<circle cx="124.8" cy="515.8" r="4.2" fill="#e2001a"/>
<circle cx="124.8" cy="528.3" r="4.2" fill="#a0a6c8"/>
<circle cx="124.8" cy="534.6" r="4.2" fill="#e2001a"/>
<circle cx="124.8" cy="547.1" r="4.2" fill="#a0a6c8"/>
<circle cx="124.8" cy="553.4" r="4.2" fill="#e2001a"/>
<circle cx="124.8" cy="565.9" r="4.2" fill="#a0a6c8"/>
<circle cx="124.8" cy="572.2" r="4.2" fill="#e2001a"/>
<circle cx="152.9" cy="497.0" r="4.2" fill="#a0a6c8"/>
<circle cx="152.9" cy="490.7" r="4.2" fill="#e2001a"/>
<circle cx="152.9" cy="515.8" r="4.2" fill="#a0a6c8"/>
<circle cx="152.9" cy="509.5" r="4.2" fill="#e2001a"/>
<circle cx="152.9" cy="534.6" r="4.2" fill="#a0a6c8"/>
<circle cx="152.9" cy="528.3" r="4.2" fill="#e2001a"/>
<circle cx="152.9" cy="553.4" r="4.2" fill="#a0a6c8"/>
<circle cx="152.9" cy="547.1" r="4.2" fill="#e2001a"/>
<circle cx="152.9" cy="572.2" r="4.2" fill="#a0a6c8"/>
<circle cx="152.9" cy="565.9" r="4.2" fill="#e2001a"/>
<circle cx="181.0" cy="490.7" r="4.2" fill="#a0a6c8"/>
<circle cx="181.0" cy="497.0" r="4.2" fill="#e2001a"/>
<circle cx="181.0" cy="509.5" r="4.2" fill="#a0a6c8"/>
<circle cx="181.0" cy="515.8" r="4.2" fill="#e2001a"/>
<circle cx="181.0" cy="528.3" r="4.2" fill="#a0a6c8"/>
<circle cx="181.0" cy="534.6" r="4.2" fill="#e2001a"/>
<circle cx="181.0" cy="547.1" r="4.2" fill="#a0a6c8"/>
<circle cx="181.0" cy="553.4" r="4.2" fill="#e2001a"/>
<circle cx="181.0" cy="565.9" r="4.2" fill="#a0a6c8"/>
<circle cx="181.0" cy="572.2" r="4.2" fill="#e2001a"/>
<circle cx="209.1" cy="497.0" r="4.2" fill="#a0a6c8"/>
<circle cx="209.1" cy="490.7" r="4.2" fill="#e2001a"/>
<circle cx="209.1" cy="515.8" r="4.2" fill="#a0a6c8"/>
<circle cx="209.1" cy="509.5" r="4.2" fill="#e2001a"/>
<circle cx="209.1" cy="534.6" r="4.2" fill="#a0a6c8"/>
<circle cx="209.1" cy="528.3" r="4.2" fill="#e2001a"/>
<circle cx="209.1" cy="553.4" r="4.2" fill="#a0a6c8"/>
<circle cx="209.1" cy="547.1" r="4.2" fill="#e2001a"/>
<circle cx="209.1" cy="572.2" r="4.2" fill="#a0a6c8"/>
<circle cx="209.1" cy="565.9" r="4.2" fill="#e2001a"/>
<circle cx="237.2" cy="490.7" r="4.2" fill="#a0a6c8"/>
<circle cx="237.2" cy="497.0" r="4.2" fill="#e2001a"/>
<circle cx="237.2" cy="509.5" r="4.2" fill="#a0a6c8"/>
<circle cx="237.2" cy="515.8" r="4.2" fill="#e2001a"/>
<circle cx="237.2" cy="528.3" r="4.2" fill="#a0a6c8"/>
<circle cx="237.2" cy="534.6" r="4.2" fill="#e2001a"/>
<circle cx="237.2" cy="547.1" r="4.2" fill="#a0a6c8"/>
<circle cx="237.2" cy="553.4" r="4.2" fill="#e2001a"/>
<circle cx="237.2" cy="565.9" r="4.2" fill="#a0a6c8"/>
<circle cx="237.2" cy="572.2" r="4.2" fill="#e2001a"/>
<circle cx="265.3" cy="497.0" r="4.2" fill="#a0a6c8"/>
<circle cx="265.3" cy="490.7" r="4.2" fill="#1486e6"/>
<circle cx="265.3" cy="515.8" r="4.2" fill="#a0a6c8"/>
<circle cx="265.3" cy="509.5" r="4.2" fill="#1486e6"/>
<circle cx="265.3" cy="534.6" r="4.2" fill="#a0a6c8"/>
<circle cx="265.3" cy="528.3" r="4.2" fill="#1486e6"/>
<circle cx="265.3" cy="553.4" r="4.2" fill="#a0a6c8"/>
<circle cx="265.3" cy="547.1" r="4.2" fill="#1486e6"/>
<circle cx="265.3" cy="572.2" r="4.2" fill="#a0a6c8"/>
<circle cx="265.3" cy="565.9" r="4.2" fill="#1486e6"/>
<circle cx="293.4" cy="490.7" r="4.2" fill="#a0a6c8"/>
<circle cx="293.4" cy="497.0" r="4.2" fill="#1486e6"/>
<circle cx="293.4" cy="509.5" r="4.2" fill="#a0a6c8"/>
<circle cx="293.4" cy="515.8" r="4.2" fill="#1486e6"/>
<circle cx="293.4" cy="528.3" r="4.2" fill="#a0a6c8"/>
<circle cx="293.4" cy="534.6" r="4.2" fill="#1486e6"/>
<circle cx="293.4" cy="547.1" r="4.2" fill="#a0a6c8"/>
<circle cx="293.4" cy="553.4" r="4.2" fill="#1486e6"/>
<circle cx="293.4" cy="565.9" r="4.2" fill="#a0a6c8"/>
<circle cx="293.4" cy="572.2" r="4.2" fill="#1486e6"/>
<circle cx="321.5" cy="497.0" r="4.2" fill="#a0a6c8"/>
<circle cx="321.5" cy="490.7" r="4.2" fill="#1486e6"/>
<circle cx="321.5" cy="515.8" r="4.2" fill="#a0a6c8"/>
<circle cx="321.5" cy="509.5" r="4.2" fill="#1486e6"/>
<circle cx="321.5" cy="534.6" r="4.2" fill="#a0a6c8"/>
<circle cx="321.5" cy="528.3" r="4.2" fill="#1486e6"/>
<circle cx="321.5" cy="553.4" r="4.2" fill="#a0a6c8"/>
<circle cx="321.5" cy="547.1" r="4.2" fill="#1486e6"/>
<circle cx="321.5" cy="572.2" r="4.2" fill="#a0a6c8"/>
<circle cx="321.5" cy="565.9" r="4.2" fill="#1486e6"/>
<circle cx="349.6" cy="490.7" r="4.2" fill="#a0a6c8"/>
<circle cx="349.6" cy="497.0" r="4.2" fill="#1486e6"/>
<circle cx="349.6" cy="509.5" r="4.2" fill="#a0a6c8"/>
<circle cx="349.6" cy="515.8" r="4.2" fill="#1486e6"/>
<circle cx="349.6" cy="528.3" r="4.2" fill="#a0a6c8"/>
<circle cx="349.6" cy="534.6" r="4.2" fill="#1486e6"/>
<circle cx="349.6" cy="547.1" r="4.2" fill="#a0a6c8"/>
<circle cx="349.6" cy="553.4" r="4.2" fill="#1486e6"/>
<circle cx="349.6" cy="565.9" r="4.2" fill="#a0a6c8"/>
<circle cx="349.6" cy="572.2" r="4.2" fill="#1486e6"/>
<circle cx="377.7" cy="497.0" r="4.2" fill="#a0a6c8"/>
<circle cx="377.7" cy="490.7" r="4.2" fill="#1486e6"/>
<circle cx="377.7" cy="515.8" r="4.2" fill="#a0a6c8"/>
<circle cx="377.7" cy="509.5" r="4.2" fill="#1486e6"/>
<circle cx="377.7" cy="534.6" r="4.2" fill="#a0a6c8"/>
<circle cx="377.7" cy="528.3" r="4.2" fill="#1486e6"/>
<circle cx="377.7" cy="553.4" r="4.2" fill="#a0a6c8"/>
<circle cx="377.7" cy="547.1" r="4.2" fill="#1486e6"/>
<circle cx="377.7" cy="572.2" r="4.2" fill="#a0a6c8"/>
<circle cx="377.7" cy="565.9" r="4.2" fill="#1486e6"/>
<circle cx="405.8" cy="490.7" r="4.2" fill="#a0a6c8"/>
<circle cx="405.8" cy="497.0" r="4.2" fill="#1486e6"/>
<circle cx="405.8" cy="509.5" r="4.2" fill="#a0a6c8"/>
<circle cx="405.8" cy="515.8" r="4.2" fill="#1486e6"/>
<circle cx="405.8" cy="528.3" r="4.2" fill="#a0a6c8"/>
<circle cx="405.8" cy="534.6" r="4.2" fill="#1486e6"/>
<circle cx="405.8" cy="547.1" r="4.2" fill="#a0a6c8"/>
<circle cx="405.8" cy="553.4" r="4.2" fill="#1486e6"/>
<circle cx="405.8" cy="565.9" r="4.2" fill="#a0a6c8"/>
<circle cx="405.8" cy="572.2" r="4.2" fill="#1486e6"/>
<path d="M101.2,490.7 H92.8" stroke="#000" stroke-width="1.1" fill="none"/>
<path d="M91.2,490.7 L93.8,489.2 L93.8,492.2 Z" fill="#000"/>
<circle cx="96.7" cy="497.0" r="0.7" fill="#222"/>
<path d="M101.2,509.5 H92.8" stroke="#000" stroke-width="0.8" fill="none"/>
<path d="M91.2,509.5 L93.8,508.0 L93.8,511.0 Z" fill="#000"/>
<circle cx="96.7" cy="515.8" r="0.7" fill="#222"/>
<path d="M101.2,528.3 H92.8" stroke="#000" stroke-width="1.1" fill="none"/>
<path d="M91.2,528.3 L93.8,526.8 L93.8,529.8 Z" fill="#000"/>
<circle cx="96.7" cy="534.6" r="0.7" fill="#222"/>
<path d="M101.2,547.1 H92.8" stroke="#000" stroke-width="0.8" fill="none"/>
<path d="M91.2,547.1 L93.8,545.6 L93.8,548.6 Z" fill="#000"/>
<circle cx="96.7" cy="553.4" r="0.7" fill="#222"/>
<path d="M101.2,565.9 H92.8" stroke="#000" stroke-width="1.1" fill="none"/>
<path d="M91.2,565.9 L93.8,564.4 L93.8,567.4 Z" fill="#000"/>
<circle cx="96.7" cy="572.2" r="0.7" fill="#222"/>
<path d="M129.3,497.0 H120.9" stroke="#000" stroke-width="1.1" fill="none"/>
<path d="M119.3,497.0 L121.9,495.5 L121.9,498.5 Z" fill="#000"/>
<circle cx="124.8" cy="490.7" r="0.7" fill="#222"/>
<path d="M129.3,515.8 H120.9" stroke="#000" stroke-width="0.8" fill="none"/>
<path d="M119.3,515.8 L121.9,514.3 L121.9,517.3 Z" fill="#000"/>
<circle cx="124.8" cy="509.5" r="0.7" fill="#222"/>
<path d="M129.3,534.6 H120.9" stroke="#000" stroke-width="1.1" fill="none"/>
<path d="M119.3,534.6 L121.9,533.1 L121.9,536.1 Z" fill="#000"/>
<circle cx="124.8" cy="528.3" r="0.7" fill="#222"/>
<path d="M129.3,553.4 H120.9" stroke="#000" stroke-width="0.8" fill="none"/>
<path d="M119.3,553.4 L121.9,551.9 L121.9,554.9 Z" fill="#000"/>
<circle cx="124.8" cy="547.1" r="0.7" fill="#222"/>
<path d="M129.3,572.2 H120.9" stroke="#000" stroke-width="1.1" fill="none"/>
<path d="M119.3,572.2 L121.9,570.7 L121.9,573.7 Z" fill="#000"/>
<circle cx="124.8" cy="565.9" r="0.7" fill="#222"/>
<path d="M157.4,490.7 H149.0" stroke="#000" stroke-width="1.1" fill="none"/>
<path d="M147.4,490.7 L150.0,489.2 L150.0,492.2 Z" fill="#000"/>
<circle cx="152.9" cy="497.0" r="0.7" fill="#222"/>
<path d="M157.4,509.5 H149.0" stroke="#000" stroke-width="0.8" fill="none"/>
<path d="M147.4,509.5 L150.0,508.0 L150.0,511.0 Z" fill="#000"/>
<circle cx="152.9" cy="515.8" r="0.7" fill="#222"/>
<path d="M157.4,528.3 H149.0" stroke="#000" stroke-width="1.1" fill="none"/>
<path d="M147.4,528.3 L150.0,526.8 L150.0,529.8 Z" fill="#000"/>
<circle cx="152.9" cy="534.6" r="0.7" fill="#222"/>
<path d="M157.4,547.1 H149.0" stroke="#000" stroke-width="0.8" fill="none"/>
<path d="M147.4,547.1 L150.0,545.6 L150.0,548.6 Z" fill="#000"/>
<circle cx="152.9" cy="553.4" r="0.7" fill="#222"/>
<path d="M157.4,565.9 H149.0" stroke="#000" stroke-width="1.1" fill="none"/>
<path d="M147.4,565.9 L150.0,564.4 L150.0,567.4 Z" fill="#000"/>
<circle cx="152.9" cy="572.2" r="0.7" fill="#222"/>
<path d="M185.5,497.0 H177.1" stroke="#000" stroke-width="1.1" fill="none"/>
<path d="M175.5,497.0 L178.1,495.5 L178.1,498.5 Z" fill="#000"/>
<circle cx="181.0" cy="490.7" r="0.7" fill="#222"/>
<path d="M185.5,515.8 H177.1" stroke="#000" stroke-width="0.8" fill="none"/>
<path d="M175.5,515.8 L178.1,514.3 L178.1,517.3 Z" fill="#000"/>
<circle cx="181.0" cy="509.5" r="0.7" fill="#222"/>
<path d="M185.5,534.6 H177.1" stroke="#000" stroke-width="1.1" fill="none"/>
<path d="M175.5,534.6 L178.1,533.1 L178.1,536.1 Z" fill="#000"/>
<circle cx="181.0" cy="528.3" r="0.7" fill="#222"/>
<path d="M185.5,553.4 H177.1" stroke="#000" stroke-width="0.8" fill="none"/>
<path d="M175.5,553.4 L178.1,551.9 L178.1,554.9 Z" fill="#000"/>
<circle cx="181.0" cy="547.1" r="0.7" fill="#222"/>
<path d="M185.5,572.2 H177.1" stroke="#000" stroke-width="1.1" fill="none"/>
<path d="M175.5,572.2 L178.1,570.7 L178.1,573.7 Z" fill="#000"/>
<circle cx="181.0" cy="565.9" r="0.7" fill="#222"/>
<path d="M226.1,490.7 H193.3" stroke="#000" stroke-width="1.5" fill="none"/>
<path d="M191.1,490.7 L194.7,488.7 L194.7,492.7 Z" fill="#000"/>
<path d="M226.1,490.7 L222.5,488.7 L222.5,492.7 Z" fill="#555"/>
<path d="M230.1,497.0 H224.3" stroke="#000" stroke-width="1.5" fill="none"/>
<path d="M222.1,497.0 L225.7,495.0 L225.7,499.0 Z" fill="#000"/>
<path d="M226.1,509.5 H193.3" stroke="#000" stroke-width="1.0" fill="none"/>
<path d="M191.1,509.5 L194.7,507.5 L194.7,511.5 Z" fill="#000"/>
<path d="M226.1,509.5 L222.5,507.5 L222.5,511.5 Z" fill="#555"/>
<path d="M230.1,515.8 H224.3" stroke="#000" stroke-width="1.0" fill="none"/>
<path d="M222.1,515.8 L225.7,513.8 L225.7,517.8 Z" fill="#000"/>
<path d="M226.1,528.3 H193.3" stroke="#000" stroke-width="1.5" fill="none"/>
<path d="M191.1,528.3 L194.7,526.3 L194.7,530.3 Z" fill="#000"/>
<path d="M226.1,528.3 L222.5,526.3 L222.5,530.3 Z" fill="#555"/>
<path d="M230.1,534.6 H224.3" stroke="#000" stroke-width="1.5" fill="none"/>
<path d="M222.1,534.6 L225.7,532.6 L225.7,536.6 Z" fill="#000"/>
<path d="M226.1,547.1 H193.3" stroke="#000" stroke-width="1.0" fill="none"/>
<path d="M191.1,547.1 L194.7,545.1 L194.7,549.1 Z" fill="#000"/>
<path d="M226.1,547.1 L222.5,545.1 L222.5,549.1 Z" fill="#555"/>
<path d="M230.1,553.4 H224.3" stroke="#000" stroke-width="1.0" fill="none"/>
<path d="M222.1,553.4 L225.7,551.4 L225.7,555.4 Z" fill="#000"/>
<path d="M226.1,565.9 H193.3" stroke="#000" stroke-width="1.5" fill="none"/>
<path d="M191.1,565.9 L194.7,563.9 L194.7,567.9 Z" fill="#000"/>
<path d="M226.1,565.9 L222.5,563.9 L222.5,567.9 Z" fill="#555"/>
<path d="M230.1,572.2 H224.3" stroke="#000" stroke-width="1.5" fill="none"/>
<path d="M222.1,572.2 L225.7,570.2 L225.7,574.2 Z" fill="#000"/>
<path d="M248.2,497.0 H223.9" stroke="#000" stroke-width="1.5" fill="none"/>
<path d="M221.7,497.0 L225.3,495.0 L225.3,499.0 Z" fill="#000"/>
<path d="M248.2,497.0 L244.6,495.0 L244.6,499.0 Z" fill="#555"/>
<path d="M225.2,490.7 H217.4" stroke="#777" stroke-width="1.0" fill="none"/>
<path d="M215.2,490.7 L218.8,488.7 L218.8,492.7 Z" fill="#777"/>
<path d="M248.2,515.8 H223.9" stroke="#000" stroke-width="1.0" fill="none"/>
<path d="M221.7,515.8 L225.3,513.8 L225.3,517.8 Z" fill="#000"/>
<path d="M248.2,515.8 L244.6,513.8 L244.6,517.8 Z" fill="#555"/>
<path d="M225.2,509.5 H217.4" stroke="#777" stroke-width="1.0" fill="none"/>
<path d="M215.2,509.5 L218.8,507.5 L218.8,511.5 Z" fill="#777"/>
<path d="M248.2,534.6 H223.9" stroke="#000" stroke-width="1.5" fill="none"/>
<path d="M221.7,534.6 L225.3,532.6 L225.3,536.6 Z" fill="#000"/>
<path d="M248.2,534.6 L244.6,532.6 L244.6,536.6 Z" fill="#555"/>
<path d="M225.2,528.3 H217.4" stroke="#777" stroke-width="1.0" fill="none"/>
<path d="M215.2,528.3 L218.8,526.3 L218.8,530.3 Z" fill="#777"/>
<path d="M248.2,553.4 H223.9" stroke="#000" stroke-width="1.0" fill="none"/>
<path d="M221.7,553.4 L225.3,551.4 L225.3,555.4 Z" fill="#000"/>
<path d="M248.2,553.4 L244.6,551.4 L244.6,555.4 Z" fill="#555"/>
<path d="M225.2,547.1 H217.4" stroke="#777" stroke-width="1.0" fill="none"/>
<path d="M215.2,547.1 L218.8,545.1 L218.8,549.1 Z" fill="#777"/>
<path d="M248.2,572.2 H223.9" stroke="#000" stroke-width="1.5" fill="none"/>
<path d="M221.7,572.2 L225.3,570.2 L225.3,574.2 Z" fill="#000"/>
<path d="M248.2,572.2 L244.6,570.2 L244.6,574.2 Z" fill="#555"/>
<path d="M225.2,565.9 H217.4" stroke="#777" stroke-width="1.0" fill="none"/>
<path d="M215.2,565.9 L218.8,563.9 L218.8,567.9 Z" fill="#777"/>
<path d="M279.3,490.7 H250.5" stroke="#000" stroke-width="1.5" fill="none"/>
<path d="M248.3,490.7 L251.9,488.7 L251.9,492.7 Z" fill="#000"/>
<path d="M279.3,490.7 L275.7,488.7 L275.7,492.7 Z" fill="#555"/>
<path d="M279.3,509.5 H250.5" stroke="#000" stroke-width="1.0" fill="none"/>
<path d="M248.3,509.5 L251.9,507.5 L251.9,511.5 Z" fill="#000"/>
<path d="M279.3,509.5 L275.7,507.5 L275.7,511.5 Z" fill="#555"/>
<path d="M279.3,528.3 H250.5" stroke="#000" stroke-width="1.5" fill="none"/>
<path d="M248.3,528.3 L251.9,526.3 L251.9,530.3 Z" fill="#000"/>
<path d="M279.3,528.3 L275.7,526.3 L275.7,530.3 Z" fill="#555"/>
<path d="M279.3,547.1 H250.5" stroke="#000" stroke-width="1.0" fill="none"/>
<path d="M248.3,547.1 L251.9,545.1 L251.9,549.1 Z" fill="#000"/>
<path d="M279.3,547.1 L275.7,545.1 L275.7,549.1 Z" fill="#555"/>
<path d="M279.3,565.9 H250.5" stroke="#000" stroke-width="1.5" fill="none"/>
<path d="M248.3,565.9 L251.9,563.9 L251.9,567.9 Z" fill="#000"/>
<path d="M279.3,565.9 L275.7,563.9 L275.7,567.9 Z" fill="#555"/>
<path d="M308.4,497.0 H275.6" stroke="#000" stroke-width="1.5" fill="none"/>
<path d="M273.4,497.0 L277.0,495.0 L277.0,499.0 Z" fill="#000"/>
<path d="M308.4,497.0 L304.8,495.0 L304.8,499.0 Z" fill="#555"/>
<path d="M308.4,515.8 H275.6" stroke="#000" stroke-width="1.0" fill="none"/>
<path d="M273.4,515.8 L277.0,513.8 L277.0,517.8 Z" fill="#000"/>
<path d="M308.4,515.8 L304.8,513.8 L304.8,517.8 Z" fill="#555"/>
<path d="M308.4,534.6 H275.6" stroke="#000" stroke-width="1.5" fill="none"/>
<path d="M273.4,534.6 L277.0,532.6 L277.0,536.6 Z" fill="#000"/>
<path d="M308.4,534.6 L304.8,532.6 L304.8,536.6 Z" fill="#555"/>
<path d="M308.4,553.4 H275.6" stroke="#000" stroke-width="1.0" fill="none"/>
<path d="M273.4,553.4 L277.0,551.4 L277.0,555.4 Z" fill="#000"/>
<path d="M308.4,553.4 L304.8,551.4 L304.8,555.4 Z" fill="#555"/>
<path d="M308.4,572.2 H275.6" stroke="#000" stroke-width="1.5" fill="none"/>
<path d="M273.4,572.2 L277.0,570.2 L277.0,574.2 Z" fill="#000"/>
<path d="M308.4,572.2 L304.8,570.2 L304.8,574.2 Z" fill="#555"/>
<path d="M329.5,490.7 H315.7" stroke="#000" stroke-width="1.5" fill="none"/>
<path d="M313.5,490.7 L317.1,488.7 L317.1,492.7 Z" fill="#000"/>
<circle cx="321.5" cy="497.0" r="0.7" fill="#222"/>
<path d="M329.5,509.5 H315.7" stroke="#000" stroke-width="1.0" fill="none"/>
<path d="M313.5,509.5 L317.1,507.5 L317.1,511.5 Z" fill="#000"/>
<circle cx="321.5" cy="515.8" r="0.7" fill="#222"/>
<path d="M329.5,528.3 H315.7" stroke="#000" stroke-width="1.5" fill="none"/>
<path d="M313.5,528.3 L317.1,526.3 L317.1,530.3 Z" fill="#000"/>
<circle cx="321.5" cy="534.6" r="0.7" fill="#222"/>
<path d="M329.5,547.1 H315.7" stroke="#000" stroke-width="1.0" fill="none"/>
<path d="M313.5,547.1 L317.1,545.1 L317.1,549.1 Z" fill="#000"/>
<circle cx="321.5" cy="553.4" r="0.7" fill="#222"/>
<path d="M329.5,565.9 H315.7" stroke="#000" stroke-width="1.5" fill="none"/>
<path d="M313.5,565.9 L317.1,563.9 L317.1,567.9 Z" fill="#000"/>
<circle cx="321.5" cy="572.2" r="0.7" fill="#222"/>
<path d="M352.6,497.0 H345.3" stroke="#000" stroke-width="1.5" fill="none"/>
<path d="M343.1,497.0 L346.7,495.0 L346.7,499.0 Z" fill="#000"/>
<circle cx="349.6" cy="490.7" r="0.7" fill="#222"/>
<path d="M352.6,515.8 H345.3" stroke="#000" stroke-width="1.0" fill="none"/>
<path d="M343.1,515.8 L346.7,513.8 L346.7,517.8 Z" fill="#000"/>
<circle cx="349.6" cy="509.5" r="0.7" fill="#222"/>
<path d="M352.6,534.6 H345.3" stroke="#000" stroke-width="1.5" fill="none"/>
<path d="M343.1,534.6 L346.7,532.6 L346.7,536.6 Z" fill="#000"/>
<circle cx="349.6" cy="528.3" r="0.7" fill="#222"/>
<path d="M352.6,553.4 H345.3" stroke="#000" stroke-width="1.0" fill="none"/>
<path d="M343.1,553.4 L346.7,551.4 L346.7,555.4 Z" fill="#000"/>
<circle cx="349.6" cy="547.1" r="0.7" fill="#222"/>
<path d="M352.6,572.2 H345.3" stroke="#000" stroke-width="1.5" fill="none"/>
<path d="M343.1,572.2 L346.7,570.2 L346.7,574.2 Z" fill="#000"/>
<circle cx="349.6" cy="565.9" r="0.7" fill="#222"/>
<path d="M380.7,490.7 H373.4" stroke="#000" stroke-width="1.5" fill="none"/>
<path d="M371.2,490.7 L374.8,488.7 L374.8,492.7 Z" fill="#000"/>
<circle cx="377.7" cy="497.0" r="0.7" fill="#222"/>
<path d="M380.7,509.5 H373.4" stroke="#000" stroke-width="1.0" fill="none"/>
<path d="M371.2,509.5 L374.8,507.5 L374.8,511.5 Z" fill="#000"/>
<circle cx="377.7" cy="515.8" r="0.7" fill="#222"/>
<path d="M380.7,528.3 H373.4" stroke="#000" stroke-width="1.5" fill="none"/>
<path d="M371.2,528.3 L374.8,526.3 L374.8,530.3 Z" fill="#000"/>
<circle cx="377.7" cy="534.6" r="0.7" fill="#222"/>
<path d="M380.7,547.1 H373.4" stroke="#000" stroke-width="1.0" fill="none"/>
<path d="M371.2,547.1 L374.8,545.1 L374.8,549.1 Z" fill="#000"/>
<circle cx="377.7" cy="553.4" r="0.7" fill="#222"/>
<path d="M380.7,565.9 H373.4" stroke="#000" stroke-width="1.5" fill="none"/>
<path d="M371.2,565.9 L374.8,563.9 L374.8,567.9 Z" fill="#000"/>
<circle cx="377.7" cy="572.2" r="0.7" fill="#222"/>
<path d="M408.8,497.0 H401.5" stroke="#000" stroke-width="1.5" fill="none"/>
<path d="M399.3,497.0 L402.9,495.0 L402.9,499.0 Z" fill="#000"/>
<circle cx="405.8" cy="490.7" r="0.7" fill="#222"/>
<path d="M408.8,515.8 H401.5" stroke="#000" stroke-width="1.0" fill="none"/>
<path d="M399.3,515.8 L402.9,513.8 L402.9,517.8 Z" fill="#000"/>
<circle cx="405.8" cy="509.5" r="0.7" fill="#222"/>
<path d="M408.8,534.6 H401.5" stroke="#000" stroke-width="1.5" fill="none"/>
<path d="M399.3,534.6 L402.9,532.6 L402.9,536.6 Z" fill="#000"/>
<circle cx="405.8" cy="528.3" r="0.7" fill="#222"/>
<path d="M408.8,553.4 H401.5" stroke="#000" stroke-width="1.0" fill="none"/>
<path d="M399.3,553.4 L402.9,551.4 L402.9,555.4 Z" fill="#000"/>
<circle cx="405.8" cy="547.1" r="0.7" fill="#222"/>
<path d="M408.8,572.2 H401.5" stroke="#000" stroke-width="1.5" fill="none"/>
<path d="M399.3,572.2 L402.9,570.2 L402.9,574.2 Z" fill="#000"/>
<circle cx="405.8" cy="565.9" r="0.7" fill="#222"/>
<text x="48" y="426.5" font-size="16.5"><tspan font-size="10.5" dy="-5">10</tspan><tspan dy="5">B</tspan></text>
<circle cx="61.5" cy="437.8" r="3.9" fill="#e2001a"/>
<text x="48" y="468" font-size="16.5"><tspan font-size="10.5" dy="-5">11</tspan><tspan dy="5">B</tspan></text>
<circle cx="61.5" cy="480" r="3.9" fill="#1486e6"/>
<text x="55.5" y="512" font-size="16.5">N</text>
<circle cx="61.5" cy="521.4" r="3.9" fill="#a0a6c8"/>
<text x="47" y="553.5" font-size="16.5">b-a</text>
<path d="M56,588 V568" stroke="#000" stroke-width="2.2"/><path d="M56,559 L49.5,572 L62.5,572 Z" fill="#000"/>
<path d="M60.5,592.8 H80" stroke="#000" stroke-width="2.2"/><path d="M88.6,592.8 L76,586.5 L76,599.1 Z" fill="#000"/>
<circle cx="56" cy="592.8" r="4.4" fill="#fff" stroke="#000" stroke-width="2"/>
<text x="95.5" y="599" font-size="16.5">c</text>
<clipPath id="cD"><rect x="498.5" y="28" width="339.7" height="540"/></clipPath>
<g clip-path="url(#cD)">
<path d="M498.5,114.0 C499.1,115.3 500.6,120.0 502.2,121.8 C503.8,123.6 505.8,126.1 508.0,124.7 C510.1,123.3 512.7,118.0 515.2,113.2 C517.7,108.4 520.6,96.6 523.0,95.9 C525.4,95.1 527.3,104.3 529.6,108.8 C531.9,113.4 534.7,123.0 536.8,123.3 C539.0,123.5 540.5,115.7 542.6,110.3 C544.7,104.9 547.3,92.4 549.2,91.0 C551.1,89.5 552.4,98.4 554.1,101.6 C555.9,104.9 557.7,111.1 559.9,110.3 C562.1,109.5 564.9,97.7 567.1,96.7 C569.3,95.8 570.7,102.0 572.9,104.5 C575.0,107.0 577.7,111.6 580.1,111.7 C582.5,111.9 584.9,105.6 587.3,105.4 C589.7,105.1 591.9,106.0 594.5,110.3 C597.2,114.6 600.5,130.6 603.2,131.3 C605.8,132.1 608.0,119.4 610.4,114.6 C612.8,109.8 615.2,102.5 617.6,102.5 C620.0,102.5 622.6,110.9 624.8,114.6 C627.0,118.3 628.4,124.2 630.6,124.7 C632.7,125.2 635.4,117.0 637.8,117.5 C640.2,118.0 642.6,125.4 645.0,127.6 C647.4,129.8 649.6,133.2 652.2,130.5 C654.8,127.7 658.0,109.0 660.8,111.2 C663.7,113.3 666.5,133.3 669.3,143.3 C672.2,153.2 675.3,168.5 678.0,170.7 C680.6,172.8 682.5,160.7 685.2,156.2 C687.8,151.8 691.0,145.0 693.8,143.8 C696.7,142.6 699.4,146.5 702.5,149.0 C705.6,151.6 709.2,157.2 712.6,159.1 C716.0,161.1 719.1,161.5 722.7,160.6 C726.3,159.6 730.9,151.9 734.2,153.4 C737.6,154.8 740.2,164.2 742.9,169.2 C745.5,174.3 747.4,185.3 750.1,183.6 C752.7,182.0 756.1,158.6 758.7,159.1 C761.4,159.6 763.4,177.2 766.0,186.5 C768.5,195.9 771.6,215.4 774.0,215.4 C776.4,215.4 778.5,195.1 780.4,186.5 C782.3,178.0 783.6,165.5 785.6,164.0 C787.5,162.6 789.7,172.0 791.9,177.9 C794.2,183.8 796.7,199.0 799.1,199.5 C801.5,200.0 804.2,186.4 806.3,180.8 C808.5,175.1 809.9,165.3 812.1,165.8 C814.3,166.2 817.1,178.7 819.3,183.6 C821.5,188.5 822.8,199.2 825.1,195.2 C827.4,191.2 831.0,163.8 833.2,159.7 C835.3,155.6 837.2,168.6 838.1,170.7 C838.9,172.7 838.2,171.8 838.2,172.0 L838.2,240.0 C838.2,239.7 839.3,241.6 838.1,238.4 C836.8,235.3 833.5,220.8 830.8,221.1 C828.2,221.5 825.2,240.7 822.2,240.5 C819.2,240.2 815.6,220.8 813.0,219.7 C810.3,218.6 808.8,227.5 806.3,234.1 C803.9,240.8 801.1,260.5 798.3,259.5 C795.4,258.5 792.0,232.8 789.0,228.4 C786.0,223.9 783.0,228.4 780.4,232.7 C777.7,236.9 776.0,252.0 773.2,253.7 C770.3,255.5 766.1,242.5 763.1,243.4 C760.0,244.2 757.4,258.5 755.0,258.6 C752.6,258.8 751.0,250.6 748.6,244.2 C746.2,237.9 743.8,217.4 740.6,220.6 C737.3,223.7 732.5,259.0 729.0,263.0 C725.6,266.9 722.8,249.3 719.8,244.2 C716.8,239.2 714.3,231.2 711.1,232.7 C708.0,234.1 703.9,253.1 701.1,252.9 C698.2,252.6 696.2,232.9 693.8,231.2 C691.4,229.6 689.3,242.5 686.6,242.8 C684.0,243.0 680.6,234.6 678.0,232.7 C675.3,230.8 672.7,234.1 670.8,231.2 C668.9,228.4 668.3,222.3 666.6,215.6 C665.0,208.9 663.5,190.1 660.8,191.0 C658.2,192.0 653.9,221.3 650.8,221.3 C647.6,221.3 645.0,191.5 642.1,191.0 C639.2,190.6 636.1,216.8 633.4,218.4 C630.8,220.1 628.5,206.2 626.2,201.1 C623.9,196.1 621.8,188.2 619.6,188.2 C617.4,188.2 615.5,195.9 613.3,201.1 C611.0,206.4 608.5,221.8 606.0,219.9 C603.6,218.0 601.2,197.1 598.8,189.6 C596.4,182.2 594.3,170.9 591.6,175.2 C589.0,179.5 585.6,214.1 583.0,215.6 C580.3,217.0 578.0,193.2 575.8,183.8 C573.5,174.5 571.8,160.0 569.4,159.3 C567.0,158.6 563.9,175.9 561.3,179.5 C558.8,183.1 556.8,183.8 554.1,181.0 C551.5,178.1 548.4,162.5 545.5,162.2 C542.6,161.9 539.2,178.2 536.8,178.9 C534.4,179.7 533.2,171.6 531.1,166.5 C528.9,161.5 526.2,148.9 523.8,148.6 C521.4,148.4 519.5,161.4 516.6,165.1 C513.7,168.8 509.6,169.4 506.5,170.9 C503.5,172.3 499.8,173.3 498.5,173.7 Z" fill="#bfe2f6"/>
<path d="M498.5,332.1 C499.6,334.5 502.6,345.8 505.1,346.5 C507.6,347.3 510.9,340.5 513.7,336.4 C516.6,332.3 519.3,324.7 522.4,322.0 C525.5,319.4 529.6,319.1 532.5,320.6 C535.4,322.0 537.3,327.8 539.7,330.7 C542.1,333.6 544.3,344.4 546.9,337.9 C549.6,331.4 552.9,292.7 555.6,291.7 C558.2,290.8 559.9,322.0 562.8,332.1 C565.7,342.2 569.5,352.5 572.9,352.3 C576.2,352.1 580.3,333.3 583.0,330.7 C585.6,328.0 586.3,331.6 588.7,336.4 C591.1,341.2 594.3,366.2 597.4,359.5 C600.5,352.8 604.8,304.7 607.5,296.1 C610.1,287.4 611.1,303.3 613.3,307.6 C615.4,311.9 618.1,321.5 620.5,322.0 C622.9,322.5 624.8,311.7 627.7,310.5 C630.6,309.3 634.9,309.5 637.8,314.8 C640.7,320.1 642.3,332.8 645.0,342.2 C647.6,351.6 650.9,375.7 653.6,371.0 C656.4,366.4 659.3,316.9 661.7,314.2 C664.1,311.6 666.8,341.2 668.1,355.2 C669.3,369.2 668.4,388.3 669.3,398.4 C670.2,408.5 671.2,411.5 673.7,415.9 C676.1,420.2 680.4,429.3 683.7,424.5 C687.1,419.7 690.7,387.5 693.8,387.0 C697.0,386.5 698.9,416.7 702.5,421.6 C706.1,426.6 711.6,415.5 715.5,416.7 C719.3,417.9 722.4,427.3 725.6,428.8 C728.7,430.4 731.4,430.4 734.2,426.0 C737.0,421.5 739.4,399.9 742.3,402.3 C745.2,404.7 748.1,435.0 751.5,440.4 C755.0,445.8 759.9,433.7 763.1,434.6 C766.2,435.5 767.6,448.5 770.3,445.6 C772.9,442.7 776.5,425.3 778.9,417.3 C781.3,409.3 781.8,395.4 784.7,397.7 C787.6,400.0 792.5,428.4 796.2,431.2 C800.0,433.9 803.8,414.3 807.2,414.4 C810.6,414.5 813.7,428.5 816.4,431.7 C819.2,435.0 821.1,437.2 823.6,434.0 C826.1,430.9 829.0,414.1 831.4,413.0 C833.8,411.9 836.9,424.9 838.1,427.4 C839.2,429.9 838.2,427.9 838.2,428.0 L838.2,534.0 C838.2,533.8 839.0,536.7 838.1,532.7 C837.1,528.6 834.2,512.5 832.3,509.6 C830.4,506.7 829.2,517.1 826.5,515.4 C823.9,513.7 819.3,498.5 816.4,499.5 C813.5,500.5 811.9,514.9 809.2,521.1 C806.6,527.4 803.4,538.0 800.6,537.0 C797.7,536.0 794.8,522.8 791.9,515.4 C789.0,507.9 786.4,491.8 783.3,492.3 C780.1,492.8 776.5,518.0 773.2,518.3 C769.8,518.5 765.7,495.2 763.1,493.7 C760.4,492.3 759.7,505.8 757.3,509.6 C754.9,513.5 751.4,517.9 748.6,516.8 C745.9,515.8 743.9,503.0 740.6,503.3 C737.2,503.5 732.6,518.1 728.5,518.3 C724.3,518.5 719.1,506.1 715.5,504.4 C711.9,502.7 709.7,508.0 706.8,508.2 C703.9,508.3 701.3,500.5 698.2,505.3 C695.0,510.1 691.4,538.2 688.1,537.0 C684.7,535.8 680.6,502.6 678.0,498.1 C675.4,493.5 674.0,509.1 672.4,509.6 C670.7,510.1 670.2,513.5 668.1,501.0 C665.9,488.5 662.5,437.7 659.4,434.6 C656.3,431.5 652.2,480.4 649.3,482.2 C646.4,484.0 644.5,448.3 642.1,445.6 C639.7,442.8 637.8,467.3 634.9,465.8 C632.0,464.2 627.9,438.4 624.8,436.1 C621.7,433.7 619.0,449.3 616.1,451.9 C613.3,454.6 610.1,456.7 607.5,451.9 C604.8,447.1 602.4,426.7 600.3,423.1 C598.1,419.5 596.7,432.2 594.5,430.3 C592.3,428.4 589.2,414.2 587.3,411.5 C585.4,408.9 584.9,415.6 583.0,414.4 C581.0,413.2 578.4,403.5 575.8,404.3 C573.1,405.2 569.8,419.5 567.1,419.6 C564.5,419.8 562.2,402.2 559.9,405.2 C557.6,408.2 555.7,435.7 553.6,437.5 C551.4,439.3 549.5,422.4 546.9,415.9 C544.4,409.4 541.6,402.6 538.3,398.4 C534.9,394.3 530.6,392.4 526.7,391.2 C522.9,390.0 519.0,388.1 515.2,391.2 C511.3,394.4 506.4,409.0 503.7,410.0 C500.9,410.9 499.4,399.2 498.5,397.0 Z" fill="#fbb3b3"/>
</g>
<path d="M498.5,136.4 C499.9,136.4 504.2,136.5 507.0,136.5 C509.8,136.6 512.7,136.6 515.5,136.7 C518.3,136.8 521.1,136.9 524.0,137.0 C526.8,137.1 529.6,137.2 532.5,137.3 C535.3,137.5 538.1,137.7 541.0,137.9 C543.8,138.1 546.6,138.3 549.5,138.6 C552.3,138.8 555.1,139.1 557.9,139.5 C560.8,139.9 563.6,140.3 566.4,140.7 C569.3,141.2 572.1,141.7 574.9,142.3 C577.8,142.8 580.6,143.5 583.4,144.2 C586.3,144.9 589.1,145.6 591.9,146.5 C594.7,147.3 597.6,148.2 600.4,149.2 C603.2,150.2 606.1,151.3 608.9,152.4 C611.7,153.5 614.6,154.7 617.4,156.0 C620.2,157.2 623.1,158.5 625.9,159.9 C628.7,161.3 631.5,162.7 634.4,164.1 C637.2,165.6 640.0,167.1 642.9,168.6 C645.7,170.1 648.5,171.6 651.4,173.1 C654.2,174.7 657.0,176.2 659.9,177.7 C662.7,179.2 665.5,180.8 668.4,182.2 C671.2,183.7 674.0,185.1 676.8,186.5 C679.7,187.9 682.5,189.3 685.3,190.5 C688.2,191.8 691.0,193.0 693.8,194.2 C696.7,195.4 699.5,196.4 702.3,197.5 C705.2,198.5 708.0,199.4 710.8,200.3 C713.6,201.2 716.5,202.0 719.3,202.7 C722.1,203.5 725.0,204.1 727.8,204.7 C730.6,205.3 733.5,205.9 736.3,206.4 C739.1,206.9 742.0,207.3 744.8,207.7 C747.6,208.0 750.4,208.4 753.3,208.7 C756.1,208.9 758.9,209.2 761.8,209.4 C764.6,209.6 767.4,209.8 770.3,210.0 C773.1,210.1 775.9,210.3 778.8,210.4 C781.6,210.5 784.4,210.6 787.2,210.7 C790.1,210.7 792.9,210.8 795.7,210.9 C798.6,210.9 801.4,210.9 804.2,211.0 C807.1,211.0 809.9,211.0 812.7,211.1 C815.6,211.1 818.4,211.1 821.2,211.1 C824.0,211.1 826.9,211.2 829.7,211.2 C832.5,211.2 836.8,211.2 838.2,211.2" fill="none" stroke="#66c2a0" stroke-width="2.8"/>
<path d="M498.5,365.3 C505.4,365.3 527.2,365.2 540.0,365.3 C552.8,365.4 565.8,365.6 575.0,366.0 C584.2,366.4 588.9,366.8 595.0,368.0 C601.1,369.2 606.5,371.3 611.5,373.4 C616.5,375.5 620.4,377.5 625.0,380.5 C629.6,383.5 635.4,387.6 639.2,391.2 C643.0,394.8 645.1,397.9 648.0,402.0 C650.9,406.1 653.7,411.6 656.5,415.8 C659.3,420.1 662.1,423.4 665.0,427.5 C667.9,431.6 670.8,436.6 673.7,440.4 C676.6,444.2 678.9,447.3 682.3,450.5 C685.6,453.7 689.5,457.2 693.8,459.7 C698.1,462.2 703.0,464.2 708.3,465.6 C713.5,467.1 718.1,467.8 725.3,468.4 C732.5,469.0 740.7,469.3 751.5,469.5 C762.3,469.7 775.6,469.6 790.0,469.6 C804.4,469.6 830.0,469.5 838.0,469.5" fill="none" stroke="#f07c22" stroke-width="2.8"/>
<path d="M496.4,142.0 l1.5,1.5 l-1.5,1.5 l-1.5,-1.5 z" fill="#111" stroke="#111" stroke-width="0.5"/>
<path d="M500.2,144.8 l1.5,1.5 l-1.5,1.5 l-1.5,-1.5 z" fill="#111" stroke="#111" stroke-width="0.5"/>
<path d="M504.5,146.3 l1.5,1.5 l-1.5,1.5 l-1.5,-1.5 z" fill="#111" stroke="#111" stroke-width="0.5"/>
<path d="M508.6,146.3 l1.5,1.5 l-1.5,1.5 l-1.5,-1.5 z" fill="#111" stroke="#111" stroke-width="0.5"/>
<path d="M512.9,142.0 l1.5,1.5 l-1.5,1.5 l-1.5,-1.5 z" fill="#111" stroke="#111" stroke-width="0.5"/>
<path d="M516.6,132.4 l1.5,1.5 l-1.5,1.5 l-1.5,-1.5 z" fill="#111" stroke="#111" stroke-width="0.5"/>
<path d="M521.2,123.5 l1.5,1.5 l-1.5,1.5 l-1.5,-1.5 z" fill="#111" stroke="#111" stroke-width="0.5"/>
<path d="M525.3,118.0 l1.5,1.5 l-1.5,1.5 l-1.5,-1.5 z" fill="#111" stroke="#111" stroke-width="0.5"/>
<path d="M529.0,131.9 l1.5,1.5 l-1.5,1.5 l-1.5,-1.5 z" fill="#111" stroke="#111" stroke-width="0.5"/>
<path d="M533.4,148.9 l1.5,1.5 l-1.5,1.5 l-1.5,-1.5 z" fill="#111" stroke="#111" stroke-width="0.5"/>
<path d="M537.4,152.1 l1.5,1.5 l-1.5,1.5 l-1.5,-1.5 z" fill="#111" stroke="#111" stroke-width="0.5"/>
<path d="M541.1,135.6 l1.5,1.5 l-1.5,1.5 l-1.5,-1.5 z" fill="#111" stroke="#111" stroke-width="0.5"/>
<path d="M545.5,125.2 l1.5,1.5 l-1.5,1.5 l-1.5,-1.5 z" fill="#111" stroke="#111" stroke-width="0.5"/>
<path d="M549.8,124.1 l1.5,1.5 l-1.5,1.5 l-1.5,-1.5 z" fill="#111" stroke="#111" stroke-width="0.5"/>
<path d="M557.9,146.3 l1.5,1.5 l-1.5,1.5 l-1.5,-1.5 z" fill="#111" stroke="#111" stroke-width="0.5"/>
<path d="M561.9,144.3 l1.5,1.5 l-1.5,1.5 l-1.5,-1.5 z" fill="#111" stroke="#111" stroke-width="0.5"/>
<path d="M566.0,131.6 l1.5,1.5 l-1.5,1.5 l-1.5,-1.5 z" fill="#111" stroke="#111" stroke-width="0.5"/>
<path d="M570.0,122.6 l1.5,1.5 l-1.5,1.5 l-1.5,-1.5 z" fill="#111" stroke="#111" stroke-width="0.5"/>
<path d="M574.3,135.6 l1.5,1.5 l-1.5,1.5 l-1.5,-1.5 z" fill="#111" stroke="#111" stroke-width="0.5"/>
<path d="M578.4,157.0 l1.5,1.5 l-1.5,1.5 l-1.5,-1.5 z" fill="#111" stroke="#111" stroke-width="0.5"/>
<path d="M582.4,163.6 l1.5,1.5 l-1.5,1.5 l-1.5,-1.5 z" fill="#111" stroke="#111" stroke-width="0.5"/>
<path d="M586.4,155.8 l1.5,1.5 l-1.5,1.5 l-1.5,-1.5 z" fill="#111" stroke="#111" stroke-width="0.5"/>
<path d="M590.5,140.8 l1.5,1.5 l-1.5,1.5 l-1.5,-1.5 z" fill="#111" stroke="#111" stroke-width="0.5"/>
<path d="M594.5,137.1 l1.5,1.5 l-1.5,1.5 l-1.5,-1.5 z" fill="#111" stroke="#111" stroke-width="0.5"/>
<path d="M598.5,152.1 l1.5,1.5 l-1.5,1.5 l-1.5,-1.5 z" fill="#111" stroke="#111" stroke-width="0.5"/>
<path d="M602.6,176.0 l1.5,1.5 l-1.5,1.5 l-1.5,-1.5 z" fill="#111" stroke="#111" stroke-width="0.5"/>
<path d="M606.9,172.5 l1.5,1.5 l-1.5,1.5 l-1.5,-1.5 z" fill="#111" stroke="#111" stroke-width="0.5"/>
<path d="M611.0,156.1 l1.5,1.5 l-1.5,1.5 l-1.5,-1.5 z" fill="#111" stroke="#111" stroke-width="0.5"/>
<path d="M615.0,144.3 l1.5,1.5 l-1.5,1.5 l-1.5,-1.5 z" fill="#111" stroke="#111" stroke-width="0.5"/>
<path d="M619.0,142.0 l1.5,1.5 l-1.5,1.5 l-1.5,-1.5 z" fill="#111" stroke="#111" stroke-width="0.5"/>
<path d="M623.1,148.3 l1.5,1.5 l-1.5,1.5 l-1.5,-1.5 z" fill="#111" stroke="#111" stroke-width="0.5"/>
<path d="M627.1,163.9 l1.5,1.5 l-1.5,1.5 l-1.5,-1.5 z" fill="#111" stroke="#111" stroke-width="0.5"/>
<path d="M631.1,172.2 l1.5,1.5 l-1.5,1.5 l-1.5,-1.5 z" fill="#111" stroke="#111" stroke-width="0.5"/>
<path d="M635.2,167.9 l1.5,1.5 l-1.5,1.5 l-1.5,-1.5 z" fill="#111" stroke="#111" stroke-width="0.5"/>
<path d="M639.2,152.1 l1.5,1.5 l-1.5,1.5 l-1.5,-1.5 z" fill="#111" stroke="#111" stroke-width="0.5"/>
<path d="M643.3,152.9 l1.5,1.5 l-1.5,1.5 l-1.5,-1.5 z" fill="#111" stroke="#111" stroke-width="0.5"/>
<path d="M647.3,176.9 l1.5,1.5 l-1.5,1.5 l-1.5,-1.5 z" fill="#111" stroke="#111" stroke-width="0.5"/>
<path d="M651.3,176.6 l1.5,1.5 l-1.5,1.5 l-1.5,-1.5 z" fill="#111" stroke="#111" stroke-width="0.5"/>
<path d="M655.7,166.2 l1.5,1.5 l-1.5,1.5 l-1.5,-1.5 z" fill="#111" stroke="#111" stroke-width="0.5"/>
<path d="M659.7,146.6 l1.5,1.5 l-1.5,1.5 l-1.5,-1.5 z" fill="#111" stroke="#111" stroke-width="0.5"/>
<path d="M663.7,146.0 l1.5,1.5 l-1.5,1.5 l-1.5,-1.5 z" fill="#111" stroke="#111" stroke-width="0.5"/>
<path d="M668.1,177.4 l1.5,1.5 l-1.5,1.5 l-1.5,-1.5 z" fill="#111" stroke="#111" stroke-width="0.5"/>
<path d="M672.1,196.8 l1.5,1.5 l-1.5,1.5 l-1.5,-1.5 z" fill="#111" stroke="#111" stroke-width="0.5"/>
<path d="M676.2,202.3 l1.5,1.5 l-1.5,1.5 l-1.5,-1.5 z" fill="#111" stroke="#111" stroke-width="0.5"/>
<path d="M680.3,198.3 l1.5,1.5 l-1.5,1.5 l-1.5,-1.5 z" fill="#111" stroke="#111" stroke-width="0.5"/>
<path d="M684.3,198.3 l1.5,1.5 l-1.5,1.5 l-1.5,-1.5 z" fill="#111" stroke="#111" stroke-width="0.5"/>
<path d="M688.4,196.6 l1.5,1.5 l-1.5,1.5 l-1.5,-1.5 z" fill="#111" stroke="#111" stroke-width="0.5"/>
<path d="M692.4,190.2 l1.5,1.5 l-1.5,1.5 l-1.5,-1.5 z" fill="#111" stroke="#111" stroke-width="0.5"/>
<path d="M696.4,181.6 l1.5,1.5 l-1.5,1.5 l-1.5,-1.5 z" fill="#111" stroke="#111" stroke-width="0.5"/>
<path d="M700.5,200.0 l1.5,1.5 l-1.5,1.5 l-1.5,-1.5 z" fill="#111" stroke="#111" stroke-width="0.5"/>
<path d="M704.5,197.7 l1.5,1.5 l-1.5,1.5 l-1.5,-1.5 z" fill="#111" stroke="#111" stroke-width="0.5"/>
<path d="M708.8,192.8 l1.5,1.5 l-1.5,1.5 l-1.5,-1.5 z" fill="#111" stroke="#111" stroke-width="0.5"/>
<path d="M712.9,193.4 l1.5,1.5 l-1.5,1.5 l-1.5,-1.5 z" fill="#111" stroke="#111" stroke-width="0.5"/>
<path d="M716.9,196.0 l1.5,1.5 l-1.5,1.5 l-1.5,-1.5 z" fill="#111" stroke="#111" stroke-width="0.5"/>
<path d="M721.0,200.0 l1.5,1.5 l-1.5,1.5 l-1.5,-1.5 z" fill="#111" stroke="#111" stroke-width="0.5"/>
<path d="M725.0,207.8 l1.5,1.5 l-1.5,1.5 l-1.5,-1.5 z" fill="#111" stroke="#111" stroke-width="0.5"/>
<path d="M729.0,213.0 l1.5,1.5 l-1.5,1.5 l-1.5,-1.5 z" fill="#111" stroke="#111" stroke-width="0.5"/>
<path d="M733.4,200.6 l1.5,1.5 l-1.5,1.5 l-1.5,-1.5 z" fill="#111" stroke="#111" stroke-width="0.5"/>
<path d="M737.4,187.9 l1.5,1.5 l-1.5,1.5 l-1.5,-1.5 z" fill="#111" stroke="#111" stroke-width="0.5"/>
<path d="M741.4,189.1 l1.5,1.5 l-1.5,1.5 l-1.5,-1.5 z" fill="#111" stroke="#111" stroke-width="0.5"/>
<path d="M745.5,201.8 l1.5,1.5 l-1.5,1.5 l-1.5,-1.5 z" fill="#111" stroke="#111" stroke-width="0.5"/>
<path d="M749.5,216.5 l1.5,1.5 l-1.5,1.5 l-1.5,-1.5 z" fill="#111" stroke="#111" stroke-width="0.5"/>
<path d="M753.5,217.6 l1.5,1.5 l-1.5,1.5 l-1.5,-1.5 z" fill="#111" stroke="#111" stroke-width="0.5"/>
<path d="M757.9,204.6 l1.5,1.5 l-1.5,1.5 l-1.5,-1.5 z" fill="#111" stroke="#111" stroke-width="0.5"/>
<path d="M761.9,198.3 l1.5,1.5 l-1.5,1.5 l-1.5,-1.5 z" fill="#111" stroke="#111" stroke-width="0.5"/>
<path d="M766.0,213.0 l1.5,1.5 l-1.5,1.5 l-1.5,-1.5 z" fill="#111" stroke="#111" stroke-width="0.5"/>
<path d="M770.3,232.3 l1.5,1.5 l-1.5,1.5 l-1.5,-1.5 z" fill="#111" stroke="#111" stroke-width="0.5"/>
<path d="M774.3,235.8 l1.5,1.5 l-1.5,1.5 l-1.5,-1.5 z" fill="#111" stroke="#111" stroke-width="0.5"/>
<path d="M778.4,213.0 l1.5,1.5 l-1.5,1.5 l-1.5,-1.5 z" fill="#111" stroke="#111" stroke-width="0.5"/>
<path d="M782.4,192.2 l1.5,1.5 l-1.5,1.5 l-1.5,-1.5 z" fill="#111" stroke="#111" stroke-width="0.5"/>
<path d="M786.4,186.2 l1.5,1.5 l-1.5,1.5 l-1.5,-1.5 z" fill="#111" stroke="#111" stroke-width="0.5"/>
<path d="M790.5,201.2 l1.5,1.5 l-1.5,1.5 l-1.5,-1.5 z" fill="#111" stroke="#111" stroke-width="0.5"/>
<path d="M794.5,222.8 l1.5,1.5 l-1.5,1.5 l-1.5,-1.5 z" fill="#111" stroke="#111" stroke-width="0.5"/>
<path d="M798.5,233.8 l1.5,1.5 l-1.5,1.5 l-1.5,-1.5 z" fill="#111" stroke="#111" stroke-width="0.5"/>
<path d="M802.6,226.6 l1.5,1.5 l-1.5,1.5 l-1.5,-1.5 z" fill="#111" stroke="#111" stroke-width="0.5"/>
<path d="M806.9,203.8 l1.5,1.5 l-1.5,1.5 l-1.5,-1.5 z" fill="#111" stroke="#111" stroke-width="0.5"/>
<path d="M810.9,186.2 l1.5,1.5 l-1.5,1.5 l-1.5,-1.5 z" fill="#111" stroke="#111" stroke-width="0.5"/>
<path d="M815.0,195.7 l1.5,1.5 l-1.5,1.5 l-1.5,-1.5 z" fill="#111" stroke="#111" stroke-width="0.5"/>
<path d="M819.3,217.0 l1.5,1.5 l-1.5,1.5 l-1.5,-1.5 z" fill="#111" stroke="#111" stroke-width="0.5"/>
<path d="M823.4,221.7 l1.5,1.5 l-1.5,1.5 l-1.5,-1.5 z" fill="#111" stroke="#111" stroke-width="0.5"/>
<path d="M827.4,203.8 l1.5,1.5 l-1.5,1.5 l-1.5,-1.5 z" fill="#111" stroke="#111" stroke-width="0.5"/>
<path d="M831.4,186.5 l1.5,1.5 l-1.5,1.5 l-1.5,-1.5 z" fill="#111" stroke="#111" stroke-width="0.5"/>
<path d="M835.5,192.5 l1.5,1.5 l-1.5,1.5 l-1.5,-1.5 z" fill="#111" stroke="#111" stroke-width="0.5"/>
<path d="M839.5,209.8 l1.5,1.5 l-1.5,1.5 l-1.5,-1.5 z" fill="#111" stroke="#111" stroke-width="0.5"/>
<rect x="496.9" y="364.4" width="3.3" height="3.3" fill="#111"/>
<rect x="498.5" y="373.7" width="3.3" height="3.3" fill="#111"/>
<rect x="502.9" y="379.5" width="3.3" height="3.3" fill="#111"/>
<rect x="506.9" y="370.8" width="3.3" height="3.3" fill="#111"/>
<rect x="511.2" y="365.1" width="3.3" height="3.3" fill="#111"/>
<rect x="515.3" y="357.9" width="3.3" height="3.3" fill="#111"/>
<rect x="519.6" y="356.4" width="3.3" height="3.3" fill="#111"/>
<rect x="523.6" y="353.5" width="3.3" height="3.3" fill="#111"/>
<rect x="527.7" y="357.3" width="3.3" height="3.3" fill="#111"/>
<rect x="531.7" y="355.0" width="3.3" height="3.3" fill="#111"/>
<rect x="535.7" y="359.3" width="3.3" height="3.3" fill="#111"/>
<rect x="540.1" y="366.8" width="3.3" height="3.3" fill="#111"/>
<rect x="544.1" y="378.6" width="3.3" height="3.3" fill="#111"/>
<rect x="548.2" y="371.4" width="3.3" height="3.3" fill="#111"/>
<rect x="552.2" y="366.8" width="3.3" height="3.3" fill="#111"/>
<rect x="556.2" y="345.5" width="3.3" height="3.3" fill="#111"/>
<rect x="560.3" y="368.0" width="3.3" height="3.3" fill="#111"/>
<rect x="564.3" y="382.4" width="3.3" height="3.3" fill="#111"/>
<rect x="568.6" y="381.8" width="3.3" height="3.3" fill="#111"/>
<rect x="572.7" y="376.6" width="3.3" height="3.3" fill="#111"/>
<rect x="576.7" y="375.2" width="3.3" height="3.3" fill="#111"/>
<rect x="580.7" y="371.7" width="3.3" height="3.3" fill="#111"/>
<rect x="584.8" y="368.2" width="3.3" height="3.3" fill="#111"/>
<rect x="588.8" y="378.6" width="3.3" height="3.3" fill="#111"/>
<rect x="592.9" y="395.6" width="3.3" height="3.3" fill="#111"/>
<rect x="596.9" y="388.7" width="3.3" height="3.3" fill="#111"/>
<rect x="600.9" y="374.0" width="3.3" height="3.3" fill="#111"/>
<rect x="605.3" y="372.9" width="3.3" height="3.3" fill="#111"/>
<rect x="609.3" y="372.3" width="3.3" height="3.3" fill="#111"/>
<rect x="613.3" y="381.8" width="3.3" height="3.3" fill="#111"/>
<rect x="617.4" y="387.6" width="3.3" height="3.3" fill="#111"/>
<rect x="621.4" y="374.3" width="3.3" height="3.3" fill="#111"/>
<rect x="625.5" y="369.4" width="3.3" height="3.3" fill="#111"/>
<rect x="629.5" y="383.0" width="3.3" height="3.3" fill="#111"/>
<rect x="633.8" y="391.3" width="3.3" height="3.3" fill="#111"/>
<rect x="637.9" y="383.8" width="3.3" height="3.3" fill="#111"/>
<rect x="641.9" y="383.0" width="3.3" height="3.3" fill="#111"/>
<rect x="645.9" y="426.5" width="3.3" height="3.3" fill="#111"/>
<rect x="650.0" y="429.7" width="3.3" height="3.3" fill="#111"/>
<rect x="654.0" y="401.7" width="3.3" height="3.3" fill="#111"/>
<rect x="658.0" y="368.5" width="3.3" height="3.3" fill="#111"/>
<rect x="662.4" y="376.6" width="3.3" height="3.3" fill="#111"/>
<rect x="666.4" y="432.3" width="3.3" height="3.3" fill="#111"/>
<rect x="670.6" y="462.4" width="3.3" height="3.3" fill="#111"/>
<rect x="674.6" y="458.1" width="3.3" height="3.3" fill="#111"/>
<rect x="678.6" y="458.1" width="3.3" height="3.3" fill="#111"/>
<rect x="682.7" y="469.6" width="3.3" height="3.3" fill="#111"/>
<rect x="686.7" y="467.0" width="3.3" height="3.3" fill="#111"/>
<rect x="690.8" y="459.8" width="3.3" height="3.3" fill="#111"/>
<rect x="694.8" y="442.8" width="3.3" height="3.3" fill="#111"/>
<rect x="698.8" y="461.8" width="3.3" height="3.3" fill="#111"/>
<rect x="702.9" y="465.8" width="3.3" height="3.3" fill="#111"/>
<rect x="707.2" y="459.8" width="3.3" height="3.3" fill="#111"/>
<rect x="711.2" y="458.9" width="3.3" height="3.3" fill="#111"/>
<rect x="715.3" y="458.9" width="3.3" height="3.3" fill="#111"/>
<rect x="719.3" y="467.0" width="3.3" height="3.3" fill="#111"/>
<rect x="723.3" y="467.9" width="3.3" height="3.3" fill="#111"/>
<rect x="727.4" y="477.7" width="3.3" height="3.3" fill="#111"/>
<rect x="731.7" y="467.9" width="3.3" height="3.3" fill="#111"/>
<rect x="735.7" y="453.7" width="3.3" height="3.3" fill="#111"/>
<rect x="739.8" y="450.0" width="3.3" height="3.3" fill="#111"/>
<rect x="743.8" y="460.7" width="3.3" height="3.3" fill="#111"/>
<rect x="747.9" y="476.8" width="3.3" height="3.3" fill="#111"/>
<rect x="751.9" y="482.3" width="3.3" height="3.3" fill="#111"/>
<rect x="756.2" y="467.6" width="3.3" height="3.3" fill="#111"/>
<rect x="760.3" y="457.2" width="3.3" height="3.3" fill="#111"/>
<rect x="764.3" y="466.7" width="3.3" height="3.3" fill="#111"/>
<rect x="768.6" y="480.8" width="3.3" height="3.3" fill="#111"/>
<rect x="772.7" y="480.8" width="3.3" height="3.3" fill="#111"/>
<rect x="776.7" y="458.9" width="3.3" height="3.3" fill="#111"/>
<rect x="780.7" y="441.9" width="3.3" height="3.3" fill="#111"/>
<rect x="784.8" y="443.9" width="3.3" height="3.3" fill="#111"/>
<rect x="788.8" y="458.9" width="3.3" height="3.3" fill="#111"/>
<rect x="792.9" y="474.8" width="3.3" height="3.3" fill="#111"/>
<rect x="796.9" y="485.5" width="3.3" height="3.3" fill="#111"/>
<rect x="800.9" y="484.9" width="3.3" height="3.3" fill="#111"/>
<rect x="805.3" y="466.4" width="3.3" height="3.3" fill="#111"/>
<rect x="809.3" y="460.7" width="3.3" height="3.3" fill="#111"/>
<rect x="813.3" y="462.1" width="3.3" height="3.3" fill="#111"/>
<rect x="817.7" y="469.6" width="3.3" height="3.3" fill="#111"/>
<rect x="821.7" y="475.9" width="3.3" height="3.3" fill="#111"/>
<rect x="825.7" y="466.7" width="3.3" height="3.3" fill="#111"/>
<rect x="829.8" y="456.0" width="3.3" height="3.3" fill="#111"/>
<rect x="833.8" y="467.6" width="3.3" height="3.3" fill="#111"/>
<rect x="837.9" y="484.0" width="3.3" height="3.3" fill="#111"/>
<path d="M498.5,272.5 V28.5 H838.2 V270" stroke="#111" stroke-width="1.3" fill="none"/>
<path d="M498.5,283 V568.2 H838.2 V284" stroke="#111" stroke-width="1.3" fill="none"/>
<path d="M494.3,276.9 L503.1,269.4" stroke="#111" stroke-width="1.1"/>
<path d="M494.3,286.2 L503.1,278.7" stroke="#111" stroke-width="1.1"/>
<path d="M834.0,274.1 L842.8,266.6" stroke="#111" stroke-width="1.1"/>
<path d="M834.0,287.6 L842.8,280.1" stroke="#111" stroke-width="1.1"/>
<path d="M498.5,69.2 h4.6" stroke="#111" stroke-width="1.2"/>
<text x="492.5" y="74.6" font-size="16.6" text-anchor="end">102</text>
<path d="M498.5,109.8 h2.6" stroke="#111" stroke-width="1.2"/>
<path d="M498.5,150.5 h4.6" stroke="#111" stroke-width="1.2"/>
<text x="492.5" y="155.9" font-size="16.6" text-anchor="end">100</text>
<path d="M498.5,191.2 h2.6" stroke="#111" stroke-width="1.2"/>
<path d="M498.5,231.8 h4.6" stroke="#111" stroke-width="1.2"/>
<text x="492.5" y="237.2" font-size="16.6" text-anchor="end">98</text>
<path d="M498.5,323.6 h4.6" stroke="#111" stroke-width="1.2"/>
<text x="492.5" y="329.0" font-size="16.6" text-anchor="end">88</text>
<path d="M498.5,364.4 h2.6" stroke="#111" stroke-width="1.2"/>
<path d="M498.5,405.1 h4.6" stroke="#111" stroke-width="1.2"/>
<text x="492.5" y="410.5" font-size="16.6" text-anchor="end">86</text>
<path d="M498.5,445.9 h2.6" stroke="#111" stroke-width="1.2"/>
<path d="M498.5,486.7 h4.6" stroke="#111" stroke-width="1.2"/>
<text x="492.5" y="492.1" font-size="16.6" text-anchor="end">84</text>
<path d="M498.5,527.5 h2.6" stroke="#111" stroke-width="1.2"/>
<text x="492.5" y="573.6" font-size="16.6" text-anchor="end">82</text>
<path d="M532.5,568.2 v-5.5" stroke="#111" stroke-width="1.2"/>
<text x="531.5" y="586.5" font-size="16.6" text-anchor="middle">-2</text>
<path d="M566.4,568.2 v-3.2" stroke="#111" stroke-width="1.2"/>
<path d="M600.4,568.2 v-5.5" stroke="#111" stroke-width="1.2"/>
<text x="599.4" y="586.5" font-size="16.6" text-anchor="middle">-1</text>
<path d="M634.4,568.2 v-3.2" stroke="#111" stroke-width="1.2"/>
<path d="M668.4,568.2 v-5.5" stroke="#111" stroke-width="1.2"/>
<text x="668.4" y="586.5" font-size="16.6" text-anchor="middle">0</text>
<path d="M702.3,568.2 v-3.2" stroke="#111" stroke-width="1.2"/>
<path d="M736.3,568.2 v-5.5" stroke="#111" stroke-width="1.2"/>
<text x="736.3" y="586.5" font-size="16.6" text-anchor="middle">1</text>
<path d="M770.3,568.2 v-3.2" stroke="#111" stroke-width="1.2"/>
<path d="M804.2,568.2 v-5.5" stroke="#111" stroke-width="1.2"/>
<text x="804.2" y="586.5" font-size="16.6" text-anchor="middle">2</text>
<text x="666" y="611.5" font-size="16.6" text-anchor="middle">Distance (nm)</text>
<text transform="translate(459.5,291.4) rotate(-90)" font-size="16.6" text-anchor="middle">Energy loss (meV)</text>
<path d="M554.6,66 V173 M782.5,67.4 V238" stroke="#111" stroke-width="1.2" fill="none"/>
<path d="M611.5,286 V410.6 M725.3,287.4 V502" stroke="#111" stroke-width="1.2" fill="none"/>
<path d="M642.0,79.5 H560.4" stroke="#111" stroke-width="1.2"/>
<path d="M555.4,79.5 L565.4,76.7 L565.4,82.3 Z" fill="#111"/>
<path d="M703.0,79.5 H776.7" stroke="#111" stroke-width="1.2"/>
<path d="M781.7,79.5 L771.7,76.7 L771.7,82.3 Z" fill="#111"/>
<path d="M640.0,296.0 H617.3" stroke="#111" stroke-width="1.2"/>
<path d="M612.3,296.0 L622.3,293.2 L622.3,298.8 Z" fill="#111"/>
<path d="M698.5,296.0 H719.5" stroke="#111" stroke-width="1.2"/>
<path d="M724.5,296.0 L714.5,293.2 L714.5,298.8 Z" fill="#111"/>
<text x="672.3" y="85" font-size="16.6" text-anchor="middle">3.34 nm</text>
<text x="668.8" y="301.5" font-size="16.6" text-anchor="middle">1.66 nm</text>
<text x="505.6" y="83.6" font-size="16.6">low q</text>
<text x="504" y="306" font-size="16.6">high q</text>
<rect x="891.3" y="27.4" width="346.1" height="546.2" rx="25" ry="25" fill="none" stroke="#777" stroke-width="1.5" stroke-dasharray="7.5 4.2"/>
<path d="M982,93.3 L1152.3,225.4 M1023.8,92 L1157.4,223.6" stroke="#777" stroke-width="2.5" stroke-dasharray="7 3.2" fill="none"/>
<rect x="1073.5" y="92" width="7.4" height="130" fill="url(#rod)"/>
<circle cx="1077" cy="77.5" r="18.3" fill="url(#sphD)"/>
<path d="M1067.4,77.9 h19.4 M1077.1,68.2 v19.4" stroke="#fff" stroke-width="4" fill="none"/>
<circle cx="1077.2" cy="237.4" r="18" fill="url(#sphN)"/>
<path d="M1073.6,237.2 h8.6" stroke="#fff" stroke-width="3"/>
<circle cx="967" cy="78.3" r="18.9" fill="none" stroke="#d0202c" stroke-width="2.5" stroke-dasharray="8.2 4.4" transform="rotate(-12 967 78.3)"/>
<circle cx="1009.2" cy="78.3" r="18.9" fill="none" stroke="#2590e4" stroke-width="2.5" stroke-dasharray="8.2 4.4" transform="rotate(-12 1009.2 78.3)"/>
<path d="M957.7,78.5 h19 M967.2,69 v19" stroke="#000" stroke-width="3.3" fill="none"/>
<path d="M999.7,78.5 h19 M1009.2,69 v19" stroke="#000" stroke-width="3.3" fill="none"/>
<circle cx="1172" cy="238.2" r="18.7" fill="none" stroke="#a3a9d2" stroke-width="2.4" stroke-dasharray="8.2 4.4"/>
<path d="M1166.8,239.2 h9.4" stroke="#000" stroke-width="3.6"/>
<text x="1198.5" y="243.3" font-size="16">N</text>
<text x="951" y="53" font-size="16.6"><tspan font-size="10.8" dy="-5">10</tspan><tspan dy="5">B</tspan></text>
<text x="992.5" y="53" font-size="16.6"><tspan font-size="10.8" dy="-5">11</tspan><tspan dy="5">B</tspan></text>
<path d="M1054.6,77.9 H1039.8" stroke="#000" stroke-width="2.8"/>
<path d="M1031.0,77.9 L1043.5,73.6 L1043.5,82.2 Z" fill="#000"/>
<path d="M1105.6,239.0 H1132.2" stroke="#000" stroke-width="2.8"/>
<path d="M1141.0,239.0 L1128.5,234.7 L1128.5,243.3 Z" fill="#000"/>
<path d="M990.3,268.4 H1137.6 V265.1 L1162.6,272.3 L1137.6,279.5 V276.2 H990.3 Z" fill="#a6d18c"/>
<text x="1072.5" y="298" font-size="16.6" text-anchor="middle">Vibration Dipole</text>
<text x="1072.5" y="341.8" font-size="16.6" text-anchor="middle">Interfacial Charge</text>
<text x="957.4" y="369.2" font-size="16.6">h-<tspan font-size="10.8" dy="-5">10</tspan><tspan dy="5">BN</tspan></text>
<text x="1131.3" y="369.2" font-size="16.6">h-<tspan font-size="10.8" dy="-5">11</tspan><tspan dy="5">BN</tspan></text>
<path d="M915.4,380.8 H954.0 V377.4 L969.0,384.9 L954.0,392.4 V389.0 H915.4 Z" fill="#a6d18c"/>
<path d="M996.7,381.8 H1035.0 V378.4 L1050.0,385.9 L1035.0,393.4 V390.0 H996.7 Z" fill="#a6d18c"/>
<path d="M1098.5,380.8 H1113.7 V377.4 L1128.7,384.9 L1113.7,392.4 V389.0 H1098.5 Z" fill="#a6d18c"/>
<path d="M1180.0,381.3 H1195.0 V377.9 L1210.0,385.4 L1195.0,392.9 V389.5 H1180.0 Z" fill="#a6d18c"/>
<path d="M1047.2,349.5 L1064.6,380.4" stroke="#888" stroke-width="2"/>
<path d="M1068.5,387.2 L1059.6,378.6 L1066.9,374.5 Z" fill="#888"/>
<ellipse cx="1068.5" cy="482.5" rx="12.2" ry="82.3" fill="#ea7a35"/>
<path d="M1063.5,434.0 h10 M1068.5,429.0 v10" stroke="#fff" stroke-width="1.6" fill="none"/>
<path d="M1063.5,482.8 h10 M1068.5,477.8 v10" stroke="#fff" stroke-width="1.6" fill="none"/>
<path d="M1063.5,531.0 h10 M1068.5,526.0 v10" stroke="#fff" stroke-width="1.6" fill="none"/>
<rect x="910.3" y="403.3" width="63.3" height="53.4" rx="9" fill="none" stroke="#666" stroke-width="1" stroke-dasharray="4.5 2.5"/>
<path d="M941.8,407 V549" stroke="#a0a6c8" stroke-width="2"/>
<path d="M941.8,423.8 H916.8" stroke="#000" stroke-width="1.8"/>
<path d="M922.3,419.6 L915.8,423.8 L922.3,428.0" stroke="#000" stroke-width="1.6" fill="none" stroke-linejoin="miter"/>
<path d="M941.8,440.2 H962.3" stroke="#000" stroke-width="1.8"/>
<path d="M956.8,436.0 L963.3,440.2 L956.8,444.4" stroke="#000" stroke-width="1.6" fill="none" stroke-linejoin="miter"/>
<circle cx="941.8" cy="423.8" r="7.2" fill="#e60019"/>
<circle cx="941.8" cy="440.2" r="7.2" fill="#a0a6c8"/>
<path d="M941.8,473.8 H916.8" stroke="#000" stroke-width="1.8"/>
<path d="M922.3,469.6 L915.8,473.8 L922.3,478.0" stroke="#000" stroke-width="1.6" fill="none" stroke-linejoin="miter"/>
<path d="M941.8,490.5 H962.3" stroke="#000" stroke-width="1.8"/>
<path d="M956.8,486.3 L963.3,490.5 L956.8,494.7" stroke="#000" stroke-width="1.6" fill="none" stroke-linejoin="miter"/>
<circle cx="941.8" cy="473.8" r="7.2" fill="#e60019"/>
<circle cx="941.8" cy="490.5" r="7.2" fill="#a0a6c8"/>
<path d="M941.8,523.8 H916.8" stroke="#000" stroke-width="1.8"/>
<path d="M922.3,519.6 L915.8,523.8 L922.3,528.0" stroke="#000" stroke-width="1.6" fill="none" stroke-linejoin="miter"/>
<path d="M941.8,540.8 H962.3" stroke="#000" stroke-width="1.8"/>
<path d="M956.8,536.6 L963.3,540.8 L956.8,545.0" stroke="#000" stroke-width="1.6" fill="none" stroke-linejoin="miter"/>
<circle cx="941.8" cy="523.8" r="7.2" fill="#e60019"/>
<circle cx="941.8" cy="540.8" r="7.2" fill="#a0a6c8"/>
<path d="M1023.0,407 V549" stroke="#a0a6c8" stroke-width="2"/>
<path d="M1023.0,423.8 H1042.6" stroke="#000" stroke-width="1.8"/>
<path d="M1037.1,419.6 L1043.6,423.8 L1037.1,428.0" stroke="#000" stroke-width="1.6" fill="none" stroke-linejoin="miter"/>
<path d="M1023.0,440.2 H997.7" stroke="#000" stroke-width="1.8"/>
<path d="M1003.2,436.0 L996.7,440.2 L1003.2,444.4" stroke="#000" stroke-width="1.6" fill="none" stroke-linejoin="miter"/>
<circle cx="1023.0" cy="423.8" r="7.2" fill="#a0a6c8"/>
<circle cx="1023.0" cy="440.2" r="7.2" fill="#e60019"/>
<path d="M1023.0,473.8 H1042.6" stroke="#000" stroke-width="1.8"/>
<path d="M1037.1,469.6 L1043.6,473.8 L1037.1,478.0" stroke="#000" stroke-width="1.6" fill="none" stroke-linejoin="miter"/>
<path d="M1023.0,490.5 H997.7" stroke="#000" stroke-width="1.8"/>
<path d="M1003.2,486.3 L996.7,490.5 L1003.2,494.7" stroke="#000" stroke-width="1.6" fill="none" stroke-linejoin="miter"/>
<circle cx="1023.0" cy="473.8" r="7.2" fill="#a0a6c8"/>
<circle cx="1023.0" cy="490.5" r="7.2" fill="#e60019"/>
<path d="M1023.0,523.8 H1042.6" stroke="#000" stroke-width="1.8"/>
<path d="M1037.1,519.6 L1043.6,523.8 L1037.1,528.0" stroke="#000" stroke-width="1.6" fill="none" stroke-linejoin="miter"/>
<path d="M1023.0,540.8 H997.7" stroke="#000" stroke-width="1.8"/>
<path d="M1003.2,536.6 L996.7,540.8 L1003.2,545.0" stroke="#000" stroke-width="1.6" fill="none" stroke-linejoin="miter"/>
<circle cx="1023.0" cy="523.8" r="7.2" fill="#a0a6c8"/>
<circle cx="1023.0" cy="540.8" r="7.2" fill="#e60019"/>
<path d="M1113.8,407 V549" stroke="#a0a6c8" stroke-width="2"/>
<path d="M1113.8,423.8 H1094.8" stroke="#000" stroke-width="1.8"/>
<path d="M1100.3,419.6 L1093.8,423.8 L1100.3,428.0" stroke="#000" stroke-width="1.6" fill="none" stroke-linejoin="miter"/>
<path d="M1113.8,440.2 H1132.8" stroke="#000" stroke-width="1.8"/>
<path d="M1127.3,436.0 L1133.8,440.2 L1127.3,444.4" stroke="#000" stroke-width="1.6" fill="none" stroke-linejoin="miter"/>
<circle cx="1113.8" cy="423.8" r="7.2" fill="#0a84ea"/>
<circle cx="1113.8" cy="440.2" r="7.2" fill="#a0a6c8"/>
<path d="M1113.8,473.8 H1094.8" stroke="#000" stroke-width="1.8"/>
<path d="M1100.3,469.6 L1093.8,473.8 L1100.3,478.0" stroke="#000" stroke-width="1.6" fill="none" stroke-linejoin="miter"/>
<path d="M1113.8,490.5 H1132.8" stroke="#000" stroke-width="1.8"/>
<path d="M1127.3,486.3 L1133.8,490.5 L1127.3,494.7" stroke="#000" stroke-width="1.6" fill="none" stroke-linejoin="miter"/>
<circle cx="1113.8" cy="473.8" r="7.2" fill="#0a84ea"/>
<circle cx="1113.8" cy="490.5" r="7.2" fill="#a0a6c8"/>
<path d="M1113.8,523.8 H1094.8" stroke="#000" stroke-width="1.8"/>
<path d="M1100.3,519.6 L1093.8,523.8 L1100.3,528.0" stroke="#000" stroke-width="1.6" fill="none" stroke-linejoin="miter"/>
<path d="M1113.8,540.8 H1132.8" stroke="#000" stroke-width="1.8"/>
<path d="M1127.3,536.6 L1133.8,540.8 L1127.3,545.0" stroke="#000" stroke-width="1.6" fill="none" stroke-linejoin="miter"/>
<circle cx="1113.8" cy="523.8" r="7.2" fill="#0a84ea"/>
<circle cx="1113.8" cy="540.8" r="7.2" fill="#a0a6c8"/>
<path d="M1195.1,407 V549" stroke="#a0a6c8" stroke-width="2"/>
<path d="M1195.1,423.8 H1214.6" stroke="#000" stroke-width="1.8"/>
<path d="M1209.1,419.6 L1215.6,423.8 L1209.1,428.0" stroke="#000" stroke-width="1.6" fill="none" stroke-linejoin="miter"/>
<path d="M1195.1,440.2 H1175.6" stroke="#000" stroke-width="1.8"/>
<path d="M1181.1,436.0 L1174.6,440.2 L1181.1,444.4" stroke="#000" stroke-width="1.6" fill="none" stroke-linejoin="miter"/>
<circle cx="1195.1" cy="423.8" r="7.2" fill="#a0a6c8"/>
<circle cx="1195.1" cy="440.2" r="7.2" fill="#0a84ea"/>
<path d="M1195.1,473.8 H1214.6" stroke="#000" stroke-width="1.8"/>
<path d="M1209.1,469.6 L1215.6,473.8 L1209.1,478.0" stroke="#000" stroke-width="1.6" fill="none" stroke-linejoin="miter"/>
<path d="M1195.1,490.5 H1175.6" stroke="#000" stroke-width="1.8"/>
<path d="M1181.1,486.3 L1174.6,490.5 L1181.1,494.7" stroke="#000" stroke-width="1.6" fill="none" stroke-linejoin="miter"/>
<circle cx="1195.1" cy="473.8" r="7.2" fill="#a0a6c8"/>
<circle cx="1195.1" cy="490.5" r="7.2" fill="#0a84ea"/>
<path d="M1195.1,523.8 H1214.6" stroke="#000" stroke-width="1.8"/>
<path d="M1209.1,519.6 L1215.6,523.8 L1209.1,528.0" stroke="#000" stroke-width="1.6" fill="none" stroke-linejoin="miter"/>
<path d="M1195.1,540.8 H1175.6" stroke="#000" stroke-width="1.8"/>
<path d="M1181.1,536.6 L1174.6,540.8 L1181.1,545.0" stroke="#000" stroke-width="1.6" fill="none" stroke-linejoin="miter"/>
<circle cx="1195.1" cy="523.8" r="7.2" fill="#a0a6c8"/>
<circle cx="1195.1" cy="540.8" r="7.2" fill="#0a84ea"/>
</svg></body></html>
